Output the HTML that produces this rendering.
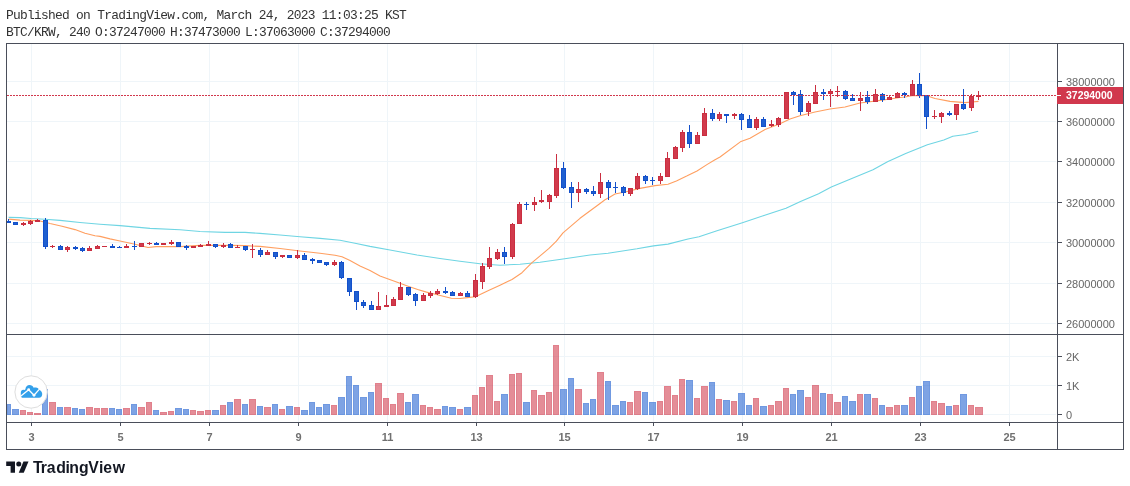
<!DOCTYPE html>
<html lang="en"><head><meta charset="utf-8"><title>BTC/KRW chart</title>
<style>html,body{margin:0;padding:0;background:#fff}body{width:1130px;height:486px;overflow:hidden}svg{display:block}.mono{font-family:"Liberation Mono","DejaVu Sans Mono",monospace;font-size:12.9px;letter-spacing:-0.715px;fill:#333333}.ax{font-family:"Liberation Sans",Arial,sans-serif;font-size:11px;fill:#666666}.logo{font-family:"Liberation Sans",Arial,sans-serif;font-weight:bold;font-size:15.8px;fill:#131722}</style></head><body>
<svg width="1130" height="486" viewBox="0 0 1130 486">
<rect width="1130" height="486" fill="#fff"/>
<text class="mono" x="5.9" y="18.7">Published on TradingView.com, March 24, 2023 11:03:25 KST</text>
<text class="mono" x="5.9" y="35.6">BTC/KRW, 240</text>
<text class="mono" x="94.9" y="35.6">O:37247000</text>
<text class="mono" x="169.9" y="35.6">H:37473000</text>
<text class="mono" x="244.9" y="35.6">L:37063000</text>
<text class="mono" x="319.9" y="35.6">C:37294000</text>
<g shape-rendering="crispEdges">
<rect x="31" y="44" width="1" height="378" fill="#eff5f9"/>
<rect x="120" y="44" width="1" height="378" fill="#eff5f9"/>
<rect x="209" y="44" width="1" height="378" fill="#eff5f9"/>
<rect x="298" y="44" width="1" height="378" fill="#eff5f9"/>
<rect x="387" y="44" width="1" height="378" fill="#eff5f9"/>
<rect x="476" y="44" width="1" height="378" fill="#eff5f9"/>
<rect x="564" y="44" width="1" height="378" fill="#eff5f9"/>
<rect x="653" y="44" width="1" height="378" fill="#eff5f9"/>
<rect x="742" y="44" width="1" height="378" fill="#eff5f9"/>
<rect x="831" y="44" width="1" height="378" fill="#eff5f9"/>
<rect x="920" y="44" width="1" height="378" fill="#eff5f9"/>
<rect x="1009" y="44" width="1" height="378" fill="#eff5f9"/>
<rect x="7" y="81" width="1049" height="1" fill="#eff5f9"/>
<rect x="7" y="121" width="1049" height="1" fill="#eff5f9"/>
<rect x="7" y="161" width="1049" height="1" fill="#eff5f9"/>
<rect x="7" y="202" width="1049" height="1" fill="#eff5f9"/>
<rect x="7" y="242" width="1049" height="1" fill="#eff5f9"/>
<rect x="7" y="283" width="1049" height="1" fill="#eff5f9"/>
<rect x="7" y="323" width="1049" height="1" fill="#eff5f9"/>
<rect x="7" y="356" width="1049" height="1" fill="#eff5f9"/>
<rect x="7" y="385" width="1049" height="1" fill="#eff5f9"/>
<rect x="7" y="414" width="1049" height="1" fill="#eff5f9"/>
</g>
<g shape-rendering="crispEdges">
<rect x="7" y="404" width="4" height="1" fill="#2060d0" fill-opacity="0.645"/>
<rect x="7" y="414" width="4" height="1" fill="#2060d0" fill-opacity="0.645"/>
<rect x="7" y="405" width="1" height="9" fill="#2060d0" fill-opacity="0.645"/>
<rect x="10" y="405" width="1" height="9" fill="#2060d0" fill-opacity="0.645"/>
<rect x="8" y="405" width="2" height="9" fill="#2060d0" fill-opacity="0.58"/>
<rect x="12" y="409" width="7" height="1" fill="#2060d0" fill-opacity="0.645"/>
<rect x="12" y="414" width="7" height="1" fill="#2060d0" fill-opacity="0.645"/>
<rect x="12" y="410" width="1" height="4" fill="#2060d0" fill-opacity="0.645"/>
<rect x="18" y="410" width="1" height="4" fill="#2060d0" fill-opacity="0.645"/>
<rect x="13" y="410" width="5" height="4" fill="#2060d0" fill-opacity="0.58"/>
<rect x="20" y="410" width="6" height="1" fill="#d13a4c" fill-opacity="0.645"/>
<rect x="20" y="414" width="6" height="1" fill="#d13a4c" fill-opacity="0.645"/>
<rect x="20" y="411" width="1" height="3" fill="#d13a4c" fill-opacity="0.645"/>
<rect x="25" y="411" width="1" height="3" fill="#d13a4c" fill-opacity="0.645"/>
<rect x="21" y="411" width="4" height="3" fill="#d13a4c" fill-opacity="0.58"/>
<rect x="27" y="412" width="6" height="1" fill="#d13a4c" fill-opacity="0.645"/>
<rect x="27" y="414" width="6" height="1" fill="#d13a4c" fill-opacity="0.645"/>
<rect x="27" y="413" width="1" height="1" fill="#d13a4c" fill-opacity="0.645"/>
<rect x="32" y="413" width="1" height="1" fill="#d13a4c" fill-opacity="0.645"/>
<rect x="28" y="413" width="4" height="1" fill="#d13a4c" fill-opacity="0.58"/>
<rect x="34" y="413" width="7" height="2" fill="#d13a4c" fill-opacity="0.645"/>
<rect x="42" y="389" width="6" height="1" fill="#2060d0" fill-opacity="0.645"/>
<rect x="42" y="414" width="6" height="1" fill="#2060d0" fill-opacity="0.645"/>
<rect x="42" y="390" width="1" height="24" fill="#2060d0" fill-opacity="0.645"/>
<rect x="47" y="390" width="1" height="24" fill="#2060d0" fill-opacity="0.645"/>
<rect x="43" y="390" width="4" height="24" fill="#2060d0" fill-opacity="0.58"/>
<rect x="49" y="402" width="7" height="1" fill="#d13a4c" fill-opacity="0.645"/>
<rect x="49" y="414" width="7" height="1" fill="#d13a4c" fill-opacity="0.645"/>
<rect x="49" y="403" width="1" height="11" fill="#d13a4c" fill-opacity="0.645"/>
<rect x="55" y="403" width="1" height="11" fill="#d13a4c" fill-opacity="0.645"/>
<rect x="50" y="403" width="5" height="11" fill="#d13a4c" fill-opacity="0.58"/>
<rect x="57" y="407" width="6" height="1" fill="#2060d0" fill-opacity="0.645"/>
<rect x="57" y="414" width="6" height="1" fill="#2060d0" fill-opacity="0.645"/>
<rect x="57" y="408" width="1" height="6" fill="#2060d0" fill-opacity="0.645"/>
<rect x="62" y="408" width="1" height="6" fill="#2060d0" fill-opacity="0.645"/>
<rect x="58" y="408" width="4" height="6" fill="#2060d0" fill-opacity="0.58"/>
<rect x="64" y="407" width="7" height="1" fill="#d13a4c" fill-opacity="0.645"/>
<rect x="64" y="414" width="7" height="1" fill="#d13a4c" fill-opacity="0.645"/>
<rect x="64" y="408" width="1" height="6" fill="#d13a4c" fill-opacity="0.645"/>
<rect x="70" y="408" width="1" height="6" fill="#d13a4c" fill-opacity="0.645"/>
<rect x="65" y="408" width="5" height="6" fill="#d13a4c" fill-opacity="0.58"/>
<rect x="72" y="408" width="6" height="1" fill="#2060d0" fill-opacity="0.645"/>
<rect x="72" y="414" width="6" height="1" fill="#2060d0" fill-opacity="0.645"/>
<rect x="72" y="409" width="1" height="5" fill="#2060d0" fill-opacity="0.645"/>
<rect x="77" y="409" width="1" height="5" fill="#2060d0" fill-opacity="0.645"/>
<rect x="73" y="409" width="4" height="5" fill="#2060d0" fill-opacity="0.58"/>
<rect x="79" y="409" width="6" height="1" fill="#2060d0" fill-opacity="0.645"/>
<rect x="79" y="414" width="6" height="1" fill="#2060d0" fill-opacity="0.645"/>
<rect x="79" y="410" width="1" height="4" fill="#2060d0" fill-opacity="0.645"/>
<rect x="84" y="410" width="1" height="4" fill="#2060d0" fill-opacity="0.645"/>
<rect x="80" y="410" width="4" height="4" fill="#2060d0" fill-opacity="0.58"/>
<rect x="86" y="407" width="7" height="1" fill="#d13a4c" fill-opacity="0.645"/>
<rect x="86" y="414" width="7" height="1" fill="#d13a4c" fill-opacity="0.645"/>
<rect x="86" y="408" width="1" height="6" fill="#d13a4c" fill-opacity="0.645"/>
<rect x="92" y="408" width="1" height="6" fill="#d13a4c" fill-opacity="0.645"/>
<rect x="87" y="408" width="5" height="6" fill="#d13a4c" fill-opacity="0.58"/>
<rect x="94" y="408" width="6" height="1" fill="#d13a4c" fill-opacity="0.645"/>
<rect x="94" y="414" width="6" height="1" fill="#d13a4c" fill-opacity="0.645"/>
<rect x="94" y="409" width="1" height="5" fill="#d13a4c" fill-opacity="0.645"/>
<rect x="99" y="409" width="1" height="5" fill="#d13a4c" fill-opacity="0.645"/>
<rect x="95" y="409" width="4" height="5" fill="#d13a4c" fill-opacity="0.58"/>
<rect x="101" y="408" width="7" height="1" fill="#d13a4c" fill-opacity="0.645"/>
<rect x="101" y="414" width="7" height="1" fill="#d13a4c" fill-opacity="0.645"/>
<rect x="101" y="409" width="1" height="5" fill="#d13a4c" fill-opacity="0.645"/>
<rect x="107" y="409" width="1" height="5" fill="#d13a4c" fill-opacity="0.645"/>
<rect x="102" y="409" width="5" height="5" fill="#d13a4c" fill-opacity="0.58"/>
<rect x="109" y="408" width="6" height="1" fill="#2060d0" fill-opacity="0.645"/>
<rect x="109" y="414" width="6" height="1" fill="#2060d0" fill-opacity="0.645"/>
<rect x="109" y="409" width="1" height="5" fill="#2060d0" fill-opacity="0.645"/>
<rect x="114" y="409" width="1" height="5" fill="#2060d0" fill-opacity="0.645"/>
<rect x="110" y="409" width="4" height="5" fill="#2060d0" fill-opacity="0.58"/>
<rect x="116" y="409" width="6" height="1" fill="#2060d0" fill-opacity="0.645"/>
<rect x="116" y="414" width="6" height="1" fill="#2060d0" fill-opacity="0.645"/>
<rect x="116" y="410" width="1" height="4" fill="#2060d0" fill-opacity="0.645"/>
<rect x="121" y="410" width="1" height="4" fill="#2060d0" fill-opacity="0.645"/>
<rect x="117" y="410" width="4" height="4" fill="#2060d0" fill-opacity="0.58"/>
<rect x="123" y="408" width="7" height="1" fill="#d13a4c" fill-opacity="0.645"/>
<rect x="123" y="414" width="7" height="1" fill="#d13a4c" fill-opacity="0.645"/>
<rect x="123" y="409" width="1" height="5" fill="#d13a4c" fill-opacity="0.645"/>
<rect x="129" y="409" width="1" height="5" fill="#d13a4c" fill-opacity="0.645"/>
<rect x="124" y="409" width="5" height="5" fill="#d13a4c" fill-opacity="0.58"/>
<rect x="131" y="404" width="6" height="1" fill="#2060d0" fill-opacity="0.645"/>
<rect x="131" y="414" width="6" height="1" fill="#2060d0" fill-opacity="0.645"/>
<rect x="131" y="405" width="1" height="9" fill="#2060d0" fill-opacity="0.645"/>
<rect x="136" y="405" width="1" height="9" fill="#2060d0" fill-opacity="0.645"/>
<rect x="132" y="405" width="4" height="9" fill="#2060d0" fill-opacity="0.58"/>
<rect x="138" y="407" width="7" height="1" fill="#d13a4c" fill-opacity="0.645"/>
<rect x="138" y="414" width="7" height="1" fill="#d13a4c" fill-opacity="0.645"/>
<rect x="138" y="408" width="1" height="6" fill="#d13a4c" fill-opacity="0.645"/>
<rect x="144" y="408" width="1" height="6" fill="#d13a4c" fill-opacity="0.645"/>
<rect x="139" y="408" width="5" height="6" fill="#d13a4c" fill-opacity="0.58"/>
<rect x="146" y="402" width="6" height="1" fill="#d13a4c" fill-opacity="0.645"/>
<rect x="146" y="414" width="6" height="1" fill="#d13a4c" fill-opacity="0.645"/>
<rect x="146" y="403" width="1" height="11" fill="#d13a4c" fill-opacity="0.645"/>
<rect x="151" y="403" width="1" height="11" fill="#d13a4c" fill-opacity="0.645"/>
<rect x="147" y="403" width="4" height="11" fill="#d13a4c" fill-opacity="0.58"/>
<rect x="153" y="410" width="6" height="1" fill="#2060d0" fill-opacity="0.645"/>
<rect x="153" y="414" width="6" height="1" fill="#2060d0" fill-opacity="0.645"/>
<rect x="153" y="411" width="1" height="3" fill="#2060d0" fill-opacity="0.645"/>
<rect x="158" y="411" width="1" height="3" fill="#2060d0" fill-opacity="0.645"/>
<rect x="154" y="411" width="4" height="3" fill="#2060d0" fill-opacity="0.58"/>
<rect x="160" y="412" width="7" height="1" fill="#d13a4c" fill-opacity="0.645"/>
<rect x="160" y="414" width="7" height="1" fill="#d13a4c" fill-opacity="0.645"/>
<rect x="160" y="413" width="1" height="1" fill="#d13a4c" fill-opacity="0.645"/>
<rect x="166" y="413" width="1" height="1" fill="#d13a4c" fill-opacity="0.645"/>
<rect x="161" y="413" width="5" height="1" fill="#d13a4c" fill-opacity="0.58"/>
<rect x="168" y="411" width="6" height="1" fill="#d13a4c" fill-opacity="0.645"/>
<rect x="168" y="414" width="6" height="1" fill="#d13a4c" fill-opacity="0.645"/>
<rect x="168" y="412" width="1" height="2" fill="#d13a4c" fill-opacity="0.645"/>
<rect x="173" y="412" width="1" height="2" fill="#d13a4c" fill-opacity="0.645"/>
<rect x="169" y="412" width="4" height="2" fill="#d13a4c" fill-opacity="0.58"/>
<rect x="175" y="408" width="7" height="1" fill="#2060d0" fill-opacity="0.645"/>
<rect x="175" y="414" width="7" height="1" fill="#2060d0" fill-opacity="0.645"/>
<rect x="175" y="409" width="1" height="5" fill="#2060d0" fill-opacity="0.645"/>
<rect x="181" y="409" width="1" height="5" fill="#2060d0" fill-opacity="0.645"/>
<rect x="176" y="409" width="5" height="5" fill="#2060d0" fill-opacity="0.58"/>
<rect x="183" y="409" width="6" height="1" fill="#2060d0" fill-opacity="0.645"/>
<rect x="183" y="414" width="6" height="1" fill="#2060d0" fill-opacity="0.645"/>
<rect x="183" y="410" width="1" height="4" fill="#2060d0" fill-opacity="0.645"/>
<rect x="188" y="410" width="1" height="4" fill="#2060d0" fill-opacity="0.645"/>
<rect x="184" y="410" width="4" height="4" fill="#2060d0" fill-opacity="0.58"/>
<rect x="190" y="410" width="6" height="1" fill="#d13a4c" fill-opacity="0.645"/>
<rect x="190" y="414" width="6" height="1" fill="#d13a4c" fill-opacity="0.645"/>
<rect x="190" y="411" width="1" height="3" fill="#d13a4c" fill-opacity="0.645"/>
<rect x="195" y="411" width="1" height="3" fill="#d13a4c" fill-opacity="0.645"/>
<rect x="191" y="411" width="4" height="3" fill="#d13a4c" fill-opacity="0.58"/>
<rect x="197" y="411" width="7" height="1" fill="#d13a4c" fill-opacity="0.645"/>
<rect x="197" y="414" width="7" height="1" fill="#d13a4c" fill-opacity="0.645"/>
<rect x="197" y="412" width="1" height="2" fill="#d13a4c" fill-opacity="0.645"/>
<rect x="203" y="412" width="1" height="2" fill="#d13a4c" fill-opacity="0.645"/>
<rect x="198" y="412" width="5" height="2" fill="#d13a4c" fill-opacity="0.58"/>
<rect x="205" y="410" width="6" height="1" fill="#d13a4c" fill-opacity="0.645"/>
<rect x="205" y="414" width="6" height="1" fill="#d13a4c" fill-opacity="0.645"/>
<rect x="205" y="411" width="1" height="3" fill="#d13a4c" fill-opacity="0.645"/>
<rect x="210" y="411" width="1" height="3" fill="#d13a4c" fill-opacity="0.645"/>
<rect x="206" y="411" width="4" height="3" fill="#d13a4c" fill-opacity="0.58"/>
<rect x="212" y="410" width="7" height="1" fill="#2060d0" fill-opacity="0.645"/>
<rect x="212" y="414" width="7" height="1" fill="#2060d0" fill-opacity="0.645"/>
<rect x="212" y="411" width="1" height="3" fill="#2060d0" fill-opacity="0.645"/>
<rect x="218" y="411" width="1" height="3" fill="#2060d0" fill-opacity="0.645"/>
<rect x="213" y="411" width="5" height="3" fill="#2060d0" fill-opacity="0.58"/>
<rect x="220" y="405" width="6" height="1" fill="#d13a4c" fill-opacity="0.645"/>
<rect x="220" y="414" width="6" height="1" fill="#d13a4c" fill-opacity="0.645"/>
<rect x="220" y="406" width="1" height="8" fill="#d13a4c" fill-opacity="0.645"/>
<rect x="225" y="406" width="1" height="8" fill="#d13a4c" fill-opacity="0.645"/>
<rect x="221" y="406" width="4" height="8" fill="#d13a4c" fill-opacity="0.58"/>
<rect x="227" y="402" width="6" height="1" fill="#2060d0" fill-opacity="0.645"/>
<rect x="227" y="414" width="6" height="1" fill="#2060d0" fill-opacity="0.645"/>
<rect x="227" y="403" width="1" height="11" fill="#2060d0" fill-opacity="0.645"/>
<rect x="232" y="403" width="1" height="11" fill="#2060d0" fill-opacity="0.645"/>
<rect x="228" y="403" width="4" height="11" fill="#2060d0" fill-opacity="0.58"/>
<rect x="234" y="399" width="7" height="1" fill="#d13a4c" fill-opacity="0.645"/>
<rect x="234" y="414" width="7" height="1" fill="#d13a4c" fill-opacity="0.645"/>
<rect x="234" y="400" width="1" height="14" fill="#d13a4c" fill-opacity="0.645"/>
<rect x="240" y="400" width="1" height="14" fill="#d13a4c" fill-opacity="0.645"/>
<rect x="235" y="400" width="5" height="14" fill="#d13a4c" fill-opacity="0.58"/>
<rect x="242" y="404" width="6" height="1" fill="#2060d0" fill-opacity="0.645"/>
<rect x="242" y="414" width="6" height="1" fill="#2060d0" fill-opacity="0.645"/>
<rect x="242" y="405" width="1" height="9" fill="#2060d0" fill-opacity="0.645"/>
<rect x="247" y="405" width="1" height="9" fill="#2060d0" fill-opacity="0.645"/>
<rect x="243" y="405" width="4" height="9" fill="#2060d0" fill-opacity="0.58"/>
<rect x="249" y="399" width="7" height="1" fill="#d13a4c" fill-opacity="0.645"/>
<rect x="249" y="414" width="7" height="1" fill="#d13a4c" fill-opacity="0.645"/>
<rect x="249" y="400" width="1" height="14" fill="#d13a4c" fill-opacity="0.645"/>
<rect x="255" y="400" width="1" height="14" fill="#d13a4c" fill-opacity="0.645"/>
<rect x="250" y="400" width="5" height="14" fill="#d13a4c" fill-opacity="0.58"/>
<rect x="257" y="406" width="6" height="1" fill="#2060d0" fill-opacity="0.645"/>
<rect x="257" y="414" width="6" height="1" fill="#2060d0" fill-opacity="0.645"/>
<rect x="257" y="407" width="1" height="7" fill="#2060d0" fill-opacity="0.645"/>
<rect x="262" y="407" width="1" height="7" fill="#2060d0" fill-opacity="0.645"/>
<rect x="258" y="407" width="4" height="7" fill="#2060d0" fill-opacity="0.58"/>
<rect x="264" y="407" width="7" height="1" fill="#d13a4c" fill-opacity="0.645"/>
<rect x="264" y="414" width="7" height="1" fill="#d13a4c" fill-opacity="0.645"/>
<rect x="264" y="408" width="1" height="6" fill="#d13a4c" fill-opacity="0.645"/>
<rect x="270" y="408" width="1" height="6" fill="#d13a4c" fill-opacity="0.645"/>
<rect x="265" y="408" width="5" height="6" fill="#d13a4c" fill-opacity="0.58"/>
<rect x="272" y="404" width="6" height="1" fill="#2060d0" fill-opacity="0.645"/>
<rect x="272" y="414" width="6" height="1" fill="#2060d0" fill-opacity="0.645"/>
<rect x="272" y="405" width="1" height="9" fill="#2060d0" fill-opacity="0.645"/>
<rect x="277" y="405" width="1" height="9" fill="#2060d0" fill-opacity="0.645"/>
<rect x="273" y="405" width="4" height="9" fill="#2060d0" fill-opacity="0.58"/>
<rect x="279" y="409" width="6" height="1" fill="#d13a4c" fill-opacity="0.645"/>
<rect x="279" y="414" width="6" height="1" fill="#d13a4c" fill-opacity="0.645"/>
<rect x="279" y="410" width="1" height="4" fill="#d13a4c" fill-opacity="0.645"/>
<rect x="284" y="410" width="1" height="4" fill="#d13a4c" fill-opacity="0.645"/>
<rect x="280" y="410" width="4" height="4" fill="#d13a4c" fill-opacity="0.58"/>
<rect x="286" y="406" width="7" height="1" fill="#2060d0" fill-opacity="0.645"/>
<rect x="286" y="414" width="7" height="1" fill="#2060d0" fill-opacity="0.645"/>
<rect x="286" y="407" width="1" height="7" fill="#2060d0" fill-opacity="0.645"/>
<rect x="292" y="407" width="1" height="7" fill="#2060d0" fill-opacity="0.645"/>
<rect x="287" y="407" width="5" height="7" fill="#2060d0" fill-opacity="0.58"/>
<rect x="294" y="407" width="6" height="1" fill="#d13a4c" fill-opacity="0.645"/>
<rect x="294" y="414" width="6" height="1" fill="#d13a4c" fill-opacity="0.645"/>
<rect x="294" y="408" width="1" height="6" fill="#d13a4c" fill-opacity="0.645"/>
<rect x="299" y="408" width="1" height="6" fill="#d13a4c" fill-opacity="0.645"/>
<rect x="295" y="408" width="4" height="6" fill="#d13a4c" fill-opacity="0.58"/>
<rect x="301" y="410" width="7" height="1" fill="#2060d0" fill-opacity="0.645"/>
<rect x="301" y="414" width="7" height="1" fill="#2060d0" fill-opacity="0.645"/>
<rect x="301" y="411" width="1" height="3" fill="#2060d0" fill-opacity="0.645"/>
<rect x="307" y="411" width="1" height="3" fill="#2060d0" fill-opacity="0.645"/>
<rect x="302" y="411" width="5" height="3" fill="#2060d0" fill-opacity="0.58"/>
<rect x="309" y="402" width="6" height="1" fill="#2060d0" fill-opacity="0.645"/>
<rect x="309" y="414" width="6" height="1" fill="#2060d0" fill-opacity="0.645"/>
<rect x="309" y="403" width="1" height="11" fill="#2060d0" fill-opacity="0.645"/>
<rect x="314" y="403" width="1" height="11" fill="#2060d0" fill-opacity="0.645"/>
<rect x="310" y="403" width="4" height="11" fill="#2060d0" fill-opacity="0.58"/>
<rect x="316" y="407" width="6" height="1" fill="#2060d0" fill-opacity="0.645"/>
<rect x="316" y="414" width="6" height="1" fill="#2060d0" fill-opacity="0.645"/>
<rect x="316" y="408" width="1" height="6" fill="#2060d0" fill-opacity="0.645"/>
<rect x="321" y="408" width="1" height="6" fill="#2060d0" fill-opacity="0.645"/>
<rect x="317" y="408" width="4" height="6" fill="#2060d0" fill-opacity="0.58"/>
<rect x="323" y="404" width="7" height="1" fill="#2060d0" fill-opacity="0.645"/>
<rect x="323" y="414" width="7" height="1" fill="#2060d0" fill-opacity="0.645"/>
<rect x="323" y="405" width="1" height="9" fill="#2060d0" fill-opacity="0.645"/>
<rect x="329" y="405" width="1" height="9" fill="#2060d0" fill-opacity="0.645"/>
<rect x="324" y="405" width="5" height="9" fill="#2060d0" fill-opacity="0.58"/>
<rect x="331" y="405" width="6" height="1" fill="#d13a4c" fill-opacity="0.645"/>
<rect x="331" y="414" width="6" height="1" fill="#d13a4c" fill-opacity="0.645"/>
<rect x="331" y="406" width="1" height="8" fill="#d13a4c" fill-opacity="0.645"/>
<rect x="336" y="406" width="1" height="8" fill="#d13a4c" fill-opacity="0.645"/>
<rect x="332" y="406" width="4" height="8" fill="#d13a4c" fill-opacity="0.58"/>
<rect x="338" y="397" width="7" height="1" fill="#2060d0" fill-opacity="0.645"/>
<rect x="338" y="414" width="7" height="1" fill="#2060d0" fill-opacity="0.645"/>
<rect x="338" y="398" width="1" height="16" fill="#2060d0" fill-opacity="0.645"/>
<rect x="344" y="398" width="1" height="16" fill="#2060d0" fill-opacity="0.645"/>
<rect x="339" y="398" width="5" height="16" fill="#2060d0" fill-opacity="0.58"/>
<rect x="346" y="376" width="6" height="1" fill="#2060d0" fill-opacity="0.645"/>
<rect x="346" y="414" width="6" height="1" fill="#2060d0" fill-opacity="0.645"/>
<rect x="346" y="377" width="1" height="37" fill="#2060d0" fill-opacity="0.645"/>
<rect x="351" y="377" width="1" height="37" fill="#2060d0" fill-opacity="0.645"/>
<rect x="347" y="377" width="4" height="37" fill="#2060d0" fill-opacity="0.58"/>
<rect x="353" y="385" width="6" height="1" fill="#2060d0" fill-opacity="0.645"/>
<rect x="353" y="414" width="6" height="1" fill="#2060d0" fill-opacity="0.645"/>
<rect x="353" y="386" width="1" height="28" fill="#2060d0" fill-opacity="0.645"/>
<rect x="358" y="386" width="1" height="28" fill="#2060d0" fill-opacity="0.645"/>
<rect x="354" y="386" width="4" height="28" fill="#2060d0" fill-opacity="0.58"/>
<rect x="360" y="397" width="7" height="1" fill="#2060d0" fill-opacity="0.645"/>
<rect x="360" y="414" width="7" height="1" fill="#2060d0" fill-opacity="0.645"/>
<rect x="360" y="398" width="1" height="16" fill="#2060d0" fill-opacity="0.645"/>
<rect x="366" y="398" width="1" height="16" fill="#2060d0" fill-opacity="0.645"/>
<rect x="361" y="398" width="5" height="16" fill="#2060d0" fill-opacity="0.58"/>
<rect x="368" y="392" width="6" height="1" fill="#2060d0" fill-opacity="0.645"/>
<rect x="368" y="414" width="6" height="1" fill="#2060d0" fill-opacity="0.645"/>
<rect x="368" y="393" width="1" height="21" fill="#2060d0" fill-opacity="0.645"/>
<rect x="373" y="393" width="1" height="21" fill="#2060d0" fill-opacity="0.645"/>
<rect x="369" y="393" width="4" height="21" fill="#2060d0" fill-opacity="0.58"/>
<rect x="375" y="383" width="7" height="1" fill="#d13a4c" fill-opacity="0.645"/>
<rect x="375" y="414" width="7" height="1" fill="#d13a4c" fill-opacity="0.645"/>
<rect x="375" y="384" width="1" height="30" fill="#d13a4c" fill-opacity="0.645"/>
<rect x="381" y="384" width="1" height="30" fill="#d13a4c" fill-opacity="0.645"/>
<rect x="376" y="384" width="5" height="30" fill="#d13a4c" fill-opacity="0.58"/>
<rect x="383" y="398" width="6" height="1" fill="#d13a4c" fill-opacity="0.645"/>
<rect x="383" y="414" width="6" height="1" fill="#d13a4c" fill-opacity="0.645"/>
<rect x="383" y="399" width="1" height="15" fill="#d13a4c" fill-opacity="0.645"/>
<rect x="388" y="399" width="1" height="15" fill="#d13a4c" fill-opacity="0.645"/>
<rect x="384" y="399" width="4" height="15" fill="#d13a4c" fill-opacity="0.58"/>
<rect x="390" y="404" width="6" height="1" fill="#d13a4c" fill-opacity="0.645"/>
<rect x="390" y="414" width="6" height="1" fill="#d13a4c" fill-opacity="0.645"/>
<rect x="390" y="405" width="1" height="9" fill="#d13a4c" fill-opacity="0.645"/>
<rect x="395" y="405" width="1" height="9" fill="#d13a4c" fill-opacity="0.645"/>
<rect x="391" y="405" width="4" height="9" fill="#d13a4c" fill-opacity="0.58"/>
<rect x="397" y="393" width="7" height="1" fill="#d13a4c" fill-opacity="0.645"/>
<rect x="397" y="414" width="7" height="1" fill="#d13a4c" fill-opacity="0.645"/>
<rect x="397" y="394" width="1" height="20" fill="#d13a4c" fill-opacity="0.645"/>
<rect x="403" y="394" width="1" height="20" fill="#d13a4c" fill-opacity="0.645"/>
<rect x="398" y="394" width="5" height="20" fill="#d13a4c" fill-opacity="0.58"/>
<rect x="405" y="402" width="6" height="1" fill="#2060d0" fill-opacity="0.645"/>
<rect x="405" y="414" width="6" height="1" fill="#2060d0" fill-opacity="0.645"/>
<rect x="405" y="403" width="1" height="11" fill="#2060d0" fill-opacity="0.645"/>
<rect x="410" y="403" width="1" height="11" fill="#2060d0" fill-opacity="0.645"/>
<rect x="406" y="403" width="4" height="11" fill="#2060d0" fill-opacity="0.58"/>
<rect x="412" y="394" width="7" height="1" fill="#2060d0" fill-opacity="0.645"/>
<rect x="412" y="414" width="7" height="1" fill="#2060d0" fill-opacity="0.645"/>
<rect x="412" y="395" width="1" height="19" fill="#2060d0" fill-opacity="0.645"/>
<rect x="418" y="395" width="1" height="19" fill="#2060d0" fill-opacity="0.645"/>
<rect x="413" y="395" width="5" height="19" fill="#2060d0" fill-opacity="0.58"/>
<rect x="420" y="405" width="6" height="1" fill="#d13a4c" fill-opacity="0.645"/>
<rect x="420" y="414" width="6" height="1" fill="#d13a4c" fill-opacity="0.645"/>
<rect x="420" y="406" width="1" height="8" fill="#d13a4c" fill-opacity="0.645"/>
<rect x="425" y="406" width="1" height="8" fill="#d13a4c" fill-opacity="0.645"/>
<rect x="421" y="406" width="4" height="8" fill="#d13a4c" fill-opacity="0.58"/>
<rect x="427" y="407" width="6" height="1" fill="#d13a4c" fill-opacity="0.645"/>
<rect x="427" y="414" width="6" height="1" fill="#d13a4c" fill-opacity="0.645"/>
<rect x="427" y="408" width="1" height="6" fill="#d13a4c" fill-opacity="0.645"/>
<rect x="432" y="408" width="1" height="6" fill="#d13a4c" fill-opacity="0.645"/>
<rect x="428" y="408" width="4" height="6" fill="#d13a4c" fill-opacity="0.58"/>
<rect x="434" y="409" width="7" height="1" fill="#d13a4c" fill-opacity="0.645"/>
<rect x="434" y="414" width="7" height="1" fill="#d13a4c" fill-opacity="0.645"/>
<rect x="434" y="410" width="1" height="4" fill="#d13a4c" fill-opacity="0.645"/>
<rect x="440" y="410" width="1" height="4" fill="#d13a4c" fill-opacity="0.645"/>
<rect x="435" y="410" width="5" height="4" fill="#d13a4c" fill-opacity="0.58"/>
<rect x="442" y="406" width="6" height="1" fill="#2060d0" fill-opacity="0.645"/>
<rect x="442" y="414" width="6" height="1" fill="#2060d0" fill-opacity="0.645"/>
<rect x="442" y="407" width="1" height="7" fill="#2060d0" fill-opacity="0.645"/>
<rect x="447" y="407" width="1" height="7" fill="#2060d0" fill-opacity="0.645"/>
<rect x="443" y="407" width="4" height="7" fill="#2060d0" fill-opacity="0.58"/>
<rect x="449" y="407" width="7" height="1" fill="#2060d0" fill-opacity="0.645"/>
<rect x="449" y="414" width="7" height="1" fill="#2060d0" fill-opacity="0.645"/>
<rect x="449" y="408" width="1" height="6" fill="#2060d0" fill-opacity="0.645"/>
<rect x="455" y="408" width="1" height="6" fill="#2060d0" fill-opacity="0.645"/>
<rect x="450" y="408" width="5" height="6" fill="#2060d0" fill-opacity="0.58"/>
<rect x="457" y="409" width="6" height="1" fill="#d13a4c" fill-opacity="0.645"/>
<rect x="457" y="414" width="6" height="1" fill="#d13a4c" fill-opacity="0.645"/>
<rect x="457" y="410" width="1" height="4" fill="#d13a4c" fill-opacity="0.645"/>
<rect x="462" y="410" width="1" height="4" fill="#d13a4c" fill-opacity="0.645"/>
<rect x="458" y="410" width="4" height="4" fill="#d13a4c" fill-opacity="0.58"/>
<rect x="464" y="407" width="7" height="1" fill="#2060d0" fill-opacity="0.645"/>
<rect x="464" y="414" width="7" height="1" fill="#2060d0" fill-opacity="0.645"/>
<rect x="464" y="408" width="1" height="6" fill="#2060d0" fill-opacity="0.645"/>
<rect x="470" y="408" width="1" height="6" fill="#2060d0" fill-opacity="0.645"/>
<rect x="465" y="408" width="5" height="6" fill="#2060d0" fill-opacity="0.58"/>
<rect x="472" y="395" width="6" height="1" fill="#d13a4c" fill-opacity="0.645"/>
<rect x="472" y="414" width="6" height="1" fill="#d13a4c" fill-opacity="0.645"/>
<rect x="472" y="396" width="1" height="18" fill="#d13a4c" fill-opacity="0.645"/>
<rect x="477" y="396" width="1" height="18" fill="#d13a4c" fill-opacity="0.645"/>
<rect x="473" y="396" width="4" height="18" fill="#d13a4c" fill-opacity="0.58"/>
<rect x="479" y="387" width="6" height="1" fill="#d13a4c" fill-opacity="0.645"/>
<rect x="479" y="414" width="6" height="1" fill="#d13a4c" fill-opacity="0.645"/>
<rect x="479" y="388" width="1" height="26" fill="#d13a4c" fill-opacity="0.645"/>
<rect x="484" y="388" width="1" height="26" fill="#d13a4c" fill-opacity="0.645"/>
<rect x="480" y="388" width="4" height="26" fill="#d13a4c" fill-opacity="0.58"/>
<rect x="486" y="375" width="7" height="1" fill="#d13a4c" fill-opacity="0.645"/>
<rect x="486" y="414" width="7" height="1" fill="#d13a4c" fill-opacity="0.645"/>
<rect x="486" y="376" width="1" height="38" fill="#d13a4c" fill-opacity="0.645"/>
<rect x="492" y="376" width="1" height="38" fill="#d13a4c" fill-opacity="0.645"/>
<rect x="487" y="376" width="5" height="38" fill="#d13a4c" fill-opacity="0.58"/>
<rect x="494" y="401" width="6" height="1" fill="#d13a4c" fill-opacity="0.645"/>
<rect x="494" y="414" width="6" height="1" fill="#d13a4c" fill-opacity="0.645"/>
<rect x="494" y="402" width="1" height="12" fill="#d13a4c" fill-opacity="0.645"/>
<rect x="499" y="402" width="1" height="12" fill="#d13a4c" fill-opacity="0.645"/>
<rect x="495" y="402" width="4" height="12" fill="#d13a4c" fill-opacity="0.58"/>
<rect x="501" y="394" width="7" height="1" fill="#2060d0" fill-opacity="0.645"/>
<rect x="501" y="414" width="7" height="1" fill="#2060d0" fill-opacity="0.645"/>
<rect x="501" y="395" width="1" height="19" fill="#2060d0" fill-opacity="0.645"/>
<rect x="507" y="395" width="1" height="19" fill="#2060d0" fill-opacity="0.645"/>
<rect x="502" y="395" width="5" height="19" fill="#2060d0" fill-opacity="0.58"/>
<rect x="509" y="374" width="6" height="1" fill="#d13a4c" fill-opacity="0.645"/>
<rect x="509" y="414" width="6" height="1" fill="#d13a4c" fill-opacity="0.645"/>
<rect x="509" y="375" width="1" height="39" fill="#d13a4c" fill-opacity="0.645"/>
<rect x="514" y="375" width="1" height="39" fill="#d13a4c" fill-opacity="0.645"/>
<rect x="510" y="375" width="4" height="39" fill="#d13a4c" fill-opacity="0.58"/>
<rect x="516" y="373" width="6" height="1" fill="#d13a4c" fill-opacity="0.645"/>
<rect x="516" y="414" width="6" height="1" fill="#d13a4c" fill-opacity="0.645"/>
<rect x="516" y="374" width="1" height="40" fill="#d13a4c" fill-opacity="0.645"/>
<rect x="521" y="374" width="1" height="40" fill="#d13a4c" fill-opacity="0.645"/>
<rect x="517" y="374" width="4" height="40" fill="#d13a4c" fill-opacity="0.58"/>
<rect x="523" y="402" width="7" height="1" fill="#2060d0" fill-opacity="0.645"/>
<rect x="523" y="414" width="7" height="1" fill="#2060d0" fill-opacity="0.645"/>
<rect x="523" y="403" width="1" height="11" fill="#2060d0" fill-opacity="0.645"/>
<rect x="529" y="403" width="1" height="11" fill="#2060d0" fill-opacity="0.645"/>
<rect x="524" y="403" width="5" height="11" fill="#2060d0" fill-opacity="0.58"/>
<rect x="531" y="390" width="6" height="1" fill="#d13a4c" fill-opacity="0.645"/>
<rect x="531" y="414" width="6" height="1" fill="#d13a4c" fill-opacity="0.645"/>
<rect x="531" y="391" width="1" height="23" fill="#d13a4c" fill-opacity="0.645"/>
<rect x="536" y="391" width="1" height="23" fill="#d13a4c" fill-opacity="0.645"/>
<rect x="532" y="391" width="4" height="23" fill="#d13a4c" fill-opacity="0.58"/>
<rect x="538" y="395" width="7" height="1" fill="#d13a4c" fill-opacity="0.645"/>
<rect x="538" y="414" width="7" height="1" fill="#d13a4c" fill-opacity="0.645"/>
<rect x="538" y="396" width="1" height="18" fill="#d13a4c" fill-opacity="0.645"/>
<rect x="544" y="396" width="1" height="18" fill="#d13a4c" fill-opacity="0.645"/>
<rect x="539" y="396" width="5" height="18" fill="#d13a4c" fill-opacity="0.58"/>
<rect x="546" y="392" width="6" height="1" fill="#d13a4c" fill-opacity="0.645"/>
<rect x="546" y="414" width="6" height="1" fill="#d13a4c" fill-opacity="0.645"/>
<rect x="546" y="393" width="1" height="21" fill="#d13a4c" fill-opacity="0.645"/>
<rect x="551" y="393" width="1" height="21" fill="#d13a4c" fill-opacity="0.645"/>
<rect x="547" y="393" width="4" height="21" fill="#d13a4c" fill-opacity="0.58"/>
<rect x="553" y="345" width="6" height="1" fill="#d13a4c" fill-opacity="0.645"/>
<rect x="553" y="414" width="6" height="1" fill="#d13a4c" fill-opacity="0.645"/>
<rect x="553" y="346" width="1" height="68" fill="#d13a4c" fill-opacity="0.645"/>
<rect x="558" y="346" width="1" height="68" fill="#d13a4c" fill-opacity="0.645"/>
<rect x="554" y="346" width="4" height="68" fill="#d13a4c" fill-opacity="0.58"/>
<rect x="560" y="389" width="7" height="1" fill="#2060d0" fill-opacity="0.645"/>
<rect x="560" y="414" width="7" height="1" fill="#2060d0" fill-opacity="0.645"/>
<rect x="560" y="390" width="1" height="24" fill="#2060d0" fill-opacity="0.645"/>
<rect x="566" y="390" width="1" height="24" fill="#2060d0" fill-opacity="0.645"/>
<rect x="561" y="390" width="5" height="24" fill="#2060d0" fill-opacity="0.58"/>
<rect x="568" y="378" width="6" height="1" fill="#2060d0" fill-opacity="0.645"/>
<rect x="568" y="414" width="6" height="1" fill="#2060d0" fill-opacity="0.645"/>
<rect x="568" y="379" width="1" height="35" fill="#2060d0" fill-opacity="0.645"/>
<rect x="573" y="379" width="1" height="35" fill="#2060d0" fill-opacity="0.645"/>
<rect x="569" y="379" width="4" height="35" fill="#2060d0" fill-opacity="0.58"/>
<rect x="575" y="389" width="7" height="1" fill="#d13a4c" fill-opacity="0.645"/>
<rect x="575" y="414" width="7" height="1" fill="#d13a4c" fill-opacity="0.645"/>
<rect x="575" y="390" width="1" height="24" fill="#d13a4c" fill-opacity="0.645"/>
<rect x="581" y="390" width="1" height="24" fill="#d13a4c" fill-opacity="0.645"/>
<rect x="576" y="390" width="5" height="24" fill="#d13a4c" fill-opacity="0.58"/>
<rect x="583" y="403" width="6" height="1" fill="#2060d0" fill-opacity="0.645"/>
<rect x="583" y="414" width="6" height="1" fill="#2060d0" fill-opacity="0.645"/>
<rect x="583" y="404" width="1" height="10" fill="#2060d0" fill-opacity="0.645"/>
<rect x="588" y="404" width="1" height="10" fill="#2060d0" fill-opacity="0.645"/>
<rect x="584" y="404" width="4" height="10" fill="#2060d0" fill-opacity="0.58"/>
<rect x="590" y="399" width="6" height="1" fill="#2060d0" fill-opacity="0.645"/>
<rect x="590" y="414" width="6" height="1" fill="#2060d0" fill-opacity="0.645"/>
<rect x="590" y="400" width="1" height="14" fill="#2060d0" fill-opacity="0.645"/>
<rect x="595" y="400" width="1" height="14" fill="#2060d0" fill-opacity="0.645"/>
<rect x="591" y="400" width="4" height="14" fill="#2060d0" fill-opacity="0.58"/>
<rect x="597" y="372" width="7" height="1" fill="#d13a4c" fill-opacity="0.645"/>
<rect x="597" y="414" width="7" height="1" fill="#d13a4c" fill-opacity="0.645"/>
<rect x="597" y="373" width="1" height="41" fill="#d13a4c" fill-opacity="0.645"/>
<rect x="603" y="373" width="1" height="41" fill="#d13a4c" fill-opacity="0.645"/>
<rect x="598" y="373" width="5" height="41" fill="#d13a4c" fill-opacity="0.58"/>
<rect x="605" y="381" width="6" height="1" fill="#2060d0" fill-opacity="0.645"/>
<rect x="605" y="414" width="6" height="1" fill="#2060d0" fill-opacity="0.645"/>
<rect x="605" y="382" width="1" height="32" fill="#2060d0" fill-opacity="0.645"/>
<rect x="610" y="382" width="1" height="32" fill="#2060d0" fill-opacity="0.645"/>
<rect x="606" y="382" width="4" height="32" fill="#2060d0" fill-opacity="0.58"/>
<rect x="612" y="405" width="7" height="1" fill="#2060d0" fill-opacity="0.645"/>
<rect x="612" y="414" width="7" height="1" fill="#2060d0" fill-opacity="0.645"/>
<rect x="612" y="406" width="1" height="8" fill="#2060d0" fill-opacity="0.645"/>
<rect x="618" y="406" width="1" height="8" fill="#2060d0" fill-opacity="0.645"/>
<rect x="613" y="406" width="5" height="8" fill="#2060d0" fill-opacity="0.58"/>
<rect x="620" y="401" width="6" height="1" fill="#2060d0" fill-opacity="0.645"/>
<rect x="620" y="414" width="6" height="1" fill="#2060d0" fill-opacity="0.645"/>
<rect x="620" y="402" width="1" height="12" fill="#2060d0" fill-opacity="0.645"/>
<rect x="625" y="402" width="1" height="12" fill="#2060d0" fill-opacity="0.645"/>
<rect x="621" y="402" width="4" height="12" fill="#2060d0" fill-opacity="0.58"/>
<rect x="627" y="402" width="6" height="1" fill="#d13a4c" fill-opacity="0.645"/>
<rect x="627" y="414" width="6" height="1" fill="#d13a4c" fill-opacity="0.645"/>
<rect x="627" y="403" width="1" height="11" fill="#d13a4c" fill-opacity="0.645"/>
<rect x="632" y="403" width="1" height="11" fill="#d13a4c" fill-opacity="0.645"/>
<rect x="628" y="403" width="4" height="11" fill="#d13a4c" fill-opacity="0.58"/>
<rect x="634" y="391" width="7" height="1" fill="#d13a4c" fill-opacity="0.645"/>
<rect x="634" y="414" width="7" height="1" fill="#d13a4c" fill-opacity="0.645"/>
<rect x="634" y="392" width="1" height="22" fill="#d13a4c" fill-opacity="0.645"/>
<rect x="640" y="392" width="1" height="22" fill="#d13a4c" fill-opacity="0.645"/>
<rect x="635" y="392" width="5" height="22" fill="#d13a4c" fill-opacity="0.58"/>
<rect x="642" y="392" width="6" height="1" fill="#2060d0" fill-opacity="0.645"/>
<rect x="642" y="414" width="6" height="1" fill="#2060d0" fill-opacity="0.645"/>
<rect x="642" y="393" width="1" height="21" fill="#2060d0" fill-opacity="0.645"/>
<rect x="647" y="393" width="1" height="21" fill="#2060d0" fill-opacity="0.645"/>
<rect x="643" y="393" width="4" height="21" fill="#2060d0" fill-opacity="0.58"/>
<rect x="649" y="402" width="7" height="1" fill="#2060d0" fill-opacity="0.645"/>
<rect x="649" y="414" width="7" height="1" fill="#2060d0" fill-opacity="0.645"/>
<rect x="649" y="403" width="1" height="11" fill="#2060d0" fill-opacity="0.645"/>
<rect x="655" y="403" width="1" height="11" fill="#2060d0" fill-opacity="0.645"/>
<rect x="650" y="403" width="5" height="11" fill="#2060d0" fill-opacity="0.58"/>
<rect x="657" y="401" width="6" height="1" fill="#d13a4c" fill-opacity="0.645"/>
<rect x="657" y="414" width="6" height="1" fill="#d13a4c" fill-opacity="0.645"/>
<rect x="657" y="402" width="1" height="12" fill="#d13a4c" fill-opacity="0.645"/>
<rect x="662" y="402" width="1" height="12" fill="#d13a4c" fill-opacity="0.645"/>
<rect x="658" y="402" width="4" height="12" fill="#d13a4c" fill-opacity="0.58"/>
<rect x="664" y="386" width="7" height="1" fill="#d13a4c" fill-opacity="0.645"/>
<rect x="664" y="414" width="7" height="1" fill="#d13a4c" fill-opacity="0.645"/>
<rect x="664" y="387" width="1" height="27" fill="#d13a4c" fill-opacity="0.645"/>
<rect x="670" y="387" width="1" height="27" fill="#d13a4c" fill-opacity="0.645"/>
<rect x="665" y="387" width="5" height="27" fill="#d13a4c" fill-opacity="0.58"/>
<rect x="672" y="395" width="6" height="1" fill="#d13a4c" fill-opacity="0.645"/>
<rect x="672" y="414" width="6" height="1" fill="#d13a4c" fill-opacity="0.645"/>
<rect x="672" y="396" width="1" height="18" fill="#d13a4c" fill-opacity="0.645"/>
<rect x="677" y="396" width="1" height="18" fill="#d13a4c" fill-opacity="0.645"/>
<rect x="673" y="396" width="4" height="18" fill="#d13a4c" fill-opacity="0.58"/>
<rect x="679" y="379" width="6" height="1" fill="#d13a4c" fill-opacity="0.645"/>
<rect x="679" y="414" width="6" height="1" fill="#d13a4c" fill-opacity="0.645"/>
<rect x="679" y="380" width="1" height="34" fill="#d13a4c" fill-opacity="0.645"/>
<rect x="684" y="380" width="1" height="34" fill="#d13a4c" fill-opacity="0.645"/>
<rect x="680" y="380" width="4" height="34" fill="#d13a4c" fill-opacity="0.58"/>
<rect x="686" y="380" width="7" height="1" fill="#2060d0" fill-opacity="0.645"/>
<rect x="686" y="414" width="7" height="1" fill="#2060d0" fill-opacity="0.645"/>
<rect x="686" y="381" width="1" height="33" fill="#2060d0" fill-opacity="0.645"/>
<rect x="692" y="381" width="1" height="33" fill="#2060d0" fill-opacity="0.645"/>
<rect x="687" y="381" width="5" height="33" fill="#2060d0" fill-opacity="0.58"/>
<rect x="694" y="398" width="6" height="1" fill="#d13a4c" fill-opacity="0.645"/>
<rect x="694" y="414" width="6" height="1" fill="#d13a4c" fill-opacity="0.645"/>
<rect x="694" y="399" width="1" height="15" fill="#d13a4c" fill-opacity="0.645"/>
<rect x="699" y="399" width="1" height="15" fill="#d13a4c" fill-opacity="0.645"/>
<rect x="695" y="399" width="4" height="15" fill="#d13a4c" fill-opacity="0.58"/>
<rect x="701" y="386" width="7" height="1" fill="#d13a4c" fill-opacity="0.645"/>
<rect x="701" y="414" width="7" height="1" fill="#d13a4c" fill-opacity="0.645"/>
<rect x="701" y="387" width="1" height="27" fill="#d13a4c" fill-opacity="0.645"/>
<rect x="707" y="387" width="1" height="27" fill="#d13a4c" fill-opacity="0.645"/>
<rect x="702" y="387" width="5" height="27" fill="#d13a4c" fill-opacity="0.58"/>
<rect x="709" y="382" width="6" height="1" fill="#2060d0" fill-opacity="0.645"/>
<rect x="709" y="414" width="6" height="1" fill="#2060d0" fill-opacity="0.645"/>
<rect x="709" y="383" width="1" height="31" fill="#2060d0" fill-opacity="0.645"/>
<rect x="714" y="383" width="1" height="31" fill="#2060d0" fill-opacity="0.645"/>
<rect x="710" y="383" width="4" height="31" fill="#2060d0" fill-opacity="0.58"/>
<rect x="716" y="399" width="6" height="1" fill="#d13a4c" fill-opacity="0.645"/>
<rect x="716" y="414" width="6" height="1" fill="#d13a4c" fill-opacity="0.645"/>
<rect x="716" y="400" width="1" height="14" fill="#d13a4c" fill-opacity="0.645"/>
<rect x="721" y="400" width="1" height="14" fill="#d13a4c" fill-opacity="0.645"/>
<rect x="717" y="400" width="4" height="14" fill="#d13a4c" fill-opacity="0.58"/>
<rect x="723" y="400" width="7" height="1" fill="#2060d0" fill-opacity="0.645"/>
<rect x="723" y="414" width="7" height="1" fill="#2060d0" fill-opacity="0.645"/>
<rect x="723" y="401" width="1" height="13" fill="#2060d0" fill-opacity="0.645"/>
<rect x="729" y="401" width="1" height="13" fill="#2060d0" fill-opacity="0.645"/>
<rect x="724" y="401" width="5" height="13" fill="#2060d0" fill-opacity="0.58"/>
<rect x="731" y="401" width="6" height="1" fill="#d13a4c" fill-opacity="0.645"/>
<rect x="731" y="414" width="6" height="1" fill="#d13a4c" fill-opacity="0.645"/>
<rect x="731" y="402" width="1" height="12" fill="#d13a4c" fill-opacity="0.645"/>
<rect x="736" y="402" width="1" height="12" fill="#d13a4c" fill-opacity="0.645"/>
<rect x="732" y="402" width="4" height="12" fill="#d13a4c" fill-opacity="0.58"/>
<rect x="738" y="393" width="7" height="1" fill="#2060d0" fill-opacity="0.645"/>
<rect x="738" y="414" width="7" height="1" fill="#2060d0" fill-opacity="0.645"/>
<rect x="738" y="394" width="1" height="20" fill="#2060d0" fill-opacity="0.645"/>
<rect x="744" y="394" width="1" height="20" fill="#2060d0" fill-opacity="0.645"/>
<rect x="739" y="394" width="5" height="20" fill="#2060d0" fill-opacity="0.58"/>
<rect x="746" y="405" width="6" height="1" fill="#2060d0" fill-opacity="0.645"/>
<rect x="746" y="414" width="6" height="1" fill="#2060d0" fill-opacity="0.645"/>
<rect x="746" y="406" width="1" height="8" fill="#2060d0" fill-opacity="0.645"/>
<rect x="751" y="406" width="1" height="8" fill="#2060d0" fill-opacity="0.645"/>
<rect x="747" y="406" width="4" height="8" fill="#2060d0" fill-opacity="0.58"/>
<rect x="753" y="398" width="6" height="1" fill="#d13a4c" fill-opacity="0.645"/>
<rect x="753" y="414" width="6" height="1" fill="#d13a4c" fill-opacity="0.645"/>
<rect x="753" y="399" width="1" height="15" fill="#d13a4c" fill-opacity="0.645"/>
<rect x="758" y="399" width="1" height="15" fill="#d13a4c" fill-opacity="0.645"/>
<rect x="754" y="399" width="4" height="15" fill="#d13a4c" fill-opacity="0.58"/>
<rect x="760" y="406" width="7" height="1" fill="#2060d0" fill-opacity="0.645"/>
<rect x="760" y="414" width="7" height="1" fill="#2060d0" fill-opacity="0.645"/>
<rect x="760" y="407" width="1" height="7" fill="#2060d0" fill-opacity="0.645"/>
<rect x="766" y="407" width="1" height="7" fill="#2060d0" fill-opacity="0.645"/>
<rect x="761" y="407" width="5" height="7" fill="#2060d0" fill-opacity="0.58"/>
<rect x="768" y="405" width="6" height="1" fill="#d13a4c" fill-opacity="0.645"/>
<rect x="768" y="414" width="6" height="1" fill="#d13a4c" fill-opacity="0.645"/>
<rect x="768" y="406" width="1" height="8" fill="#d13a4c" fill-opacity="0.645"/>
<rect x="773" y="406" width="1" height="8" fill="#d13a4c" fill-opacity="0.645"/>
<rect x="769" y="406" width="4" height="8" fill="#d13a4c" fill-opacity="0.58"/>
<rect x="775" y="401" width="7" height="1" fill="#d13a4c" fill-opacity="0.645"/>
<rect x="775" y="414" width="7" height="1" fill="#d13a4c" fill-opacity="0.645"/>
<rect x="775" y="402" width="1" height="12" fill="#d13a4c" fill-opacity="0.645"/>
<rect x="781" y="402" width="1" height="12" fill="#d13a4c" fill-opacity="0.645"/>
<rect x="776" y="402" width="5" height="12" fill="#d13a4c" fill-opacity="0.58"/>
<rect x="783" y="388" width="6" height="1" fill="#d13a4c" fill-opacity="0.645"/>
<rect x="783" y="414" width="6" height="1" fill="#d13a4c" fill-opacity="0.645"/>
<rect x="783" y="389" width="1" height="25" fill="#d13a4c" fill-opacity="0.645"/>
<rect x="788" y="389" width="1" height="25" fill="#d13a4c" fill-opacity="0.645"/>
<rect x="784" y="389" width="4" height="25" fill="#d13a4c" fill-opacity="0.58"/>
<rect x="790" y="394" width="6" height="1" fill="#2060d0" fill-opacity="0.645"/>
<rect x="790" y="414" width="6" height="1" fill="#2060d0" fill-opacity="0.645"/>
<rect x="790" y="395" width="1" height="19" fill="#2060d0" fill-opacity="0.645"/>
<rect x="795" y="395" width="1" height="19" fill="#2060d0" fill-opacity="0.645"/>
<rect x="791" y="395" width="4" height="19" fill="#2060d0" fill-opacity="0.58"/>
<rect x="797" y="390" width="7" height="1" fill="#2060d0" fill-opacity="0.645"/>
<rect x="797" y="414" width="7" height="1" fill="#2060d0" fill-opacity="0.645"/>
<rect x="797" y="391" width="1" height="23" fill="#2060d0" fill-opacity="0.645"/>
<rect x="803" y="391" width="1" height="23" fill="#2060d0" fill-opacity="0.645"/>
<rect x="798" y="391" width="5" height="23" fill="#2060d0" fill-opacity="0.58"/>
<rect x="805" y="397" width="6" height="1" fill="#d13a4c" fill-opacity="0.645"/>
<rect x="805" y="414" width="6" height="1" fill="#d13a4c" fill-opacity="0.645"/>
<rect x="805" y="398" width="1" height="16" fill="#d13a4c" fill-opacity="0.645"/>
<rect x="810" y="398" width="1" height="16" fill="#d13a4c" fill-opacity="0.645"/>
<rect x="806" y="398" width="4" height="16" fill="#d13a4c" fill-opacity="0.58"/>
<rect x="812" y="385" width="7" height="1" fill="#d13a4c" fill-opacity="0.645"/>
<rect x="812" y="414" width="7" height="1" fill="#d13a4c" fill-opacity="0.645"/>
<rect x="812" y="386" width="1" height="28" fill="#d13a4c" fill-opacity="0.645"/>
<rect x="818" y="386" width="1" height="28" fill="#d13a4c" fill-opacity="0.645"/>
<rect x="813" y="386" width="5" height="28" fill="#d13a4c" fill-opacity="0.58"/>
<rect x="820" y="393" width="6" height="1" fill="#2060d0" fill-opacity="0.645"/>
<rect x="820" y="414" width="6" height="1" fill="#2060d0" fill-opacity="0.645"/>
<rect x="820" y="394" width="1" height="20" fill="#2060d0" fill-opacity="0.645"/>
<rect x="825" y="394" width="1" height="20" fill="#2060d0" fill-opacity="0.645"/>
<rect x="821" y="394" width="4" height="20" fill="#2060d0" fill-opacity="0.58"/>
<rect x="827" y="394" width="6" height="1" fill="#d13a4c" fill-opacity="0.645"/>
<rect x="827" y="414" width="6" height="1" fill="#d13a4c" fill-opacity="0.645"/>
<rect x="827" y="395" width="1" height="19" fill="#d13a4c" fill-opacity="0.645"/>
<rect x="832" y="395" width="1" height="19" fill="#d13a4c" fill-opacity="0.645"/>
<rect x="828" y="395" width="4" height="19" fill="#d13a4c" fill-opacity="0.58"/>
<rect x="834" y="402" width="7" height="1" fill="#d13a4c" fill-opacity="0.645"/>
<rect x="834" y="414" width="7" height="1" fill="#d13a4c" fill-opacity="0.645"/>
<rect x="834" y="403" width="1" height="11" fill="#d13a4c" fill-opacity="0.645"/>
<rect x="840" y="403" width="1" height="11" fill="#d13a4c" fill-opacity="0.645"/>
<rect x="835" y="403" width="5" height="11" fill="#d13a4c" fill-opacity="0.58"/>
<rect x="842" y="396" width="6" height="1" fill="#2060d0" fill-opacity="0.645"/>
<rect x="842" y="414" width="6" height="1" fill="#2060d0" fill-opacity="0.645"/>
<rect x="842" y="397" width="1" height="17" fill="#2060d0" fill-opacity="0.645"/>
<rect x="847" y="397" width="1" height="17" fill="#2060d0" fill-opacity="0.645"/>
<rect x="843" y="397" width="4" height="17" fill="#2060d0" fill-opacity="0.58"/>
<rect x="849" y="401" width="7" height="1" fill="#2060d0" fill-opacity="0.645"/>
<rect x="849" y="414" width="7" height="1" fill="#2060d0" fill-opacity="0.645"/>
<rect x="849" y="402" width="1" height="12" fill="#2060d0" fill-opacity="0.645"/>
<rect x="855" y="402" width="1" height="12" fill="#2060d0" fill-opacity="0.645"/>
<rect x="850" y="402" width="5" height="12" fill="#2060d0" fill-opacity="0.58"/>
<rect x="857" y="394" width="6" height="1" fill="#d13a4c" fill-opacity="0.645"/>
<rect x="857" y="414" width="6" height="1" fill="#d13a4c" fill-opacity="0.645"/>
<rect x="857" y="395" width="1" height="19" fill="#d13a4c" fill-opacity="0.645"/>
<rect x="862" y="395" width="1" height="19" fill="#d13a4c" fill-opacity="0.645"/>
<rect x="858" y="395" width="4" height="19" fill="#d13a4c" fill-opacity="0.58"/>
<rect x="864" y="394" width="7" height="1" fill="#2060d0" fill-opacity="0.645"/>
<rect x="864" y="414" width="7" height="1" fill="#2060d0" fill-opacity="0.645"/>
<rect x="864" y="395" width="1" height="19" fill="#2060d0" fill-opacity="0.645"/>
<rect x="870" y="395" width="1" height="19" fill="#2060d0" fill-opacity="0.645"/>
<rect x="865" y="395" width="5" height="19" fill="#2060d0" fill-opacity="0.58"/>
<rect x="872" y="398" width="6" height="1" fill="#d13a4c" fill-opacity="0.645"/>
<rect x="872" y="414" width="6" height="1" fill="#d13a4c" fill-opacity="0.645"/>
<rect x="872" y="399" width="1" height="15" fill="#d13a4c" fill-opacity="0.645"/>
<rect x="877" y="399" width="1" height="15" fill="#d13a4c" fill-opacity="0.645"/>
<rect x="873" y="399" width="4" height="15" fill="#d13a4c" fill-opacity="0.58"/>
<rect x="879" y="405" width="6" height="1" fill="#2060d0" fill-opacity="0.645"/>
<rect x="879" y="414" width="6" height="1" fill="#2060d0" fill-opacity="0.645"/>
<rect x="879" y="406" width="1" height="8" fill="#2060d0" fill-opacity="0.645"/>
<rect x="884" y="406" width="1" height="8" fill="#2060d0" fill-opacity="0.645"/>
<rect x="880" y="406" width="4" height="8" fill="#2060d0" fill-opacity="0.58"/>
<rect x="886" y="407" width="7" height="1" fill="#d13a4c" fill-opacity="0.645"/>
<rect x="886" y="414" width="7" height="1" fill="#d13a4c" fill-opacity="0.645"/>
<rect x="886" y="408" width="1" height="6" fill="#d13a4c" fill-opacity="0.645"/>
<rect x="892" y="408" width="1" height="6" fill="#d13a4c" fill-opacity="0.645"/>
<rect x="887" y="408" width="5" height="6" fill="#d13a4c" fill-opacity="0.58"/>
<rect x="894" y="405" width="6" height="1" fill="#d13a4c" fill-opacity="0.645"/>
<rect x="894" y="414" width="6" height="1" fill="#d13a4c" fill-opacity="0.645"/>
<rect x="894" y="406" width="1" height="8" fill="#d13a4c" fill-opacity="0.645"/>
<rect x="899" y="406" width="1" height="8" fill="#d13a4c" fill-opacity="0.645"/>
<rect x="895" y="406" width="4" height="8" fill="#d13a4c" fill-opacity="0.58"/>
<rect x="901" y="405" width="7" height="1" fill="#2060d0" fill-opacity="0.645"/>
<rect x="901" y="414" width="7" height="1" fill="#2060d0" fill-opacity="0.645"/>
<rect x="901" y="406" width="1" height="8" fill="#2060d0" fill-opacity="0.645"/>
<rect x="907" y="406" width="1" height="8" fill="#2060d0" fill-opacity="0.645"/>
<rect x="902" y="406" width="5" height="8" fill="#2060d0" fill-opacity="0.58"/>
<rect x="909" y="397" width="6" height="1" fill="#d13a4c" fill-opacity="0.645"/>
<rect x="909" y="414" width="6" height="1" fill="#d13a4c" fill-opacity="0.645"/>
<rect x="909" y="398" width="1" height="16" fill="#d13a4c" fill-opacity="0.645"/>
<rect x="914" y="398" width="1" height="16" fill="#d13a4c" fill-opacity="0.645"/>
<rect x="910" y="398" width="4" height="16" fill="#d13a4c" fill-opacity="0.58"/>
<rect x="916" y="386" width="6" height="1" fill="#2060d0" fill-opacity="0.645"/>
<rect x="916" y="414" width="6" height="1" fill="#2060d0" fill-opacity="0.645"/>
<rect x="916" y="387" width="1" height="27" fill="#2060d0" fill-opacity="0.645"/>
<rect x="921" y="387" width="1" height="27" fill="#2060d0" fill-opacity="0.645"/>
<rect x="917" y="387" width="4" height="27" fill="#2060d0" fill-opacity="0.58"/>
<rect x="923" y="381" width="7" height="1" fill="#2060d0" fill-opacity="0.645"/>
<rect x="923" y="414" width="7" height="1" fill="#2060d0" fill-opacity="0.645"/>
<rect x="923" y="382" width="1" height="32" fill="#2060d0" fill-opacity="0.645"/>
<rect x="929" y="382" width="1" height="32" fill="#2060d0" fill-opacity="0.645"/>
<rect x="924" y="382" width="5" height="32" fill="#2060d0" fill-opacity="0.58"/>
<rect x="931" y="401" width="6" height="1" fill="#d13a4c" fill-opacity="0.645"/>
<rect x="931" y="414" width="6" height="1" fill="#d13a4c" fill-opacity="0.645"/>
<rect x="931" y="402" width="1" height="12" fill="#d13a4c" fill-opacity="0.645"/>
<rect x="936" y="402" width="1" height="12" fill="#d13a4c" fill-opacity="0.645"/>
<rect x="932" y="402" width="4" height="12" fill="#d13a4c" fill-opacity="0.58"/>
<rect x="938" y="403" width="7" height="1" fill="#d13a4c" fill-opacity="0.645"/>
<rect x="938" y="414" width="7" height="1" fill="#d13a4c" fill-opacity="0.645"/>
<rect x="938" y="404" width="1" height="10" fill="#d13a4c" fill-opacity="0.645"/>
<rect x="944" y="404" width="1" height="10" fill="#d13a4c" fill-opacity="0.645"/>
<rect x="939" y="404" width="5" height="10" fill="#d13a4c" fill-opacity="0.58"/>
<rect x="946" y="406" width="6" height="1" fill="#2060d0" fill-opacity="0.645"/>
<rect x="946" y="414" width="6" height="1" fill="#2060d0" fill-opacity="0.645"/>
<rect x="946" y="407" width="1" height="7" fill="#2060d0" fill-opacity="0.645"/>
<rect x="951" y="407" width="1" height="7" fill="#2060d0" fill-opacity="0.645"/>
<rect x="947" y="407" width="4" height="7" fill="#2060d0" fill-opacity="0.58"/>
<rect x="953" y="405" width="6" height="1" fill="#d13a4c" fill-opacity="0.645"/>
<rect x="953" y="414" width="6" height="1" fill="#d13a4c" fill-opacity="0.645"/>
<rect x="953" y="406" width="1" height="8" fill="#d13a4c" fill-opacity="0.645"/>
<rect x="958" y="406" width="1" height="8" fill="#d13a4c" fill-opacity="0.645"/>
<rect x="954" y="406" width="4" height="8" fill="#d13a4c" fill-opacity="0.58"/>
<rect x="960" y="394" width="7" height="1" fill="#2060d0" fill-opacity="0.645"/>
<rect x="960" y="414" width="7" height="1" fill="#2060d0" fill-opacity="0.645"/>
<rect x="960" y="395" width="1" height="19" fill="#2060d0" fill-opacity="0.645"/>
<rect x="966" y="395" width="1" height="19" fill="#2060d0" fill-opacity="0.645"/>
<rect x="961" y="395" width="5" height="19" fill="#2060d0" fill-opacity="0.58"/>
<rect x="968" y="405" width="6" height="1" fill="#d13a4c" fill-opacity="0.645"/>
<rect x="968" y="414" width="6" height="1" fill="#d13a4c" fill-opacity="0.645"/>
<rect x="968" y="406" width="1" height="8" fill="#d13a4c" fill-opacity="0.645"/>
<rect x="973" y="406" width="1" height="8" fill="#d13a4c" fill-opacity="0.645"/>
<rect x="969" y="406" width="4" height="8" fill="#d13a4c" fill-opacity="0.58"/>
<rect x="975" y="407" width="8" height="1" fill="#d13a4c" fill-opacity="0.645"/>
<rect x="975" y="414" width="8" height="1" fill="#d13a4c" fill-opacity="0.645"/>
<rect x="975" y="408" width="1" height="6" fill="#d13a4c" fill-opacity="0.645"/>
<rect x="982" y="408" width="1" height="6" fill="#d13a4c" fill-opacity="0.645"/>
<rect x="976" y="408" width="6" height="6" fill="#d13a4c" fill-opacity="0.58"/>
</g>
<path d="M8.6 217.4 L20.0 217.6 L31.0 218.5 L45.0 219.3 L60.0 220.4 L80.0 222.5 L100.0 224.2 L120.0 225.6 L150.0 228.4 L180.0 229.7 L200.0 231.5 L225.0 232.4 L245.0 232.4 L260.0 233.4 L280.0 235.0 L300.0 236.7 L320.0 238.4 L340.0 240.2 L355.0 243.2 L370.0 246.4 L390.0 250.0 L417.0 255.0 L440.0 258.5 L460.0 261.2 L480.0 263.7 L500.0 265.2 L520.0 264.2 L540.0 262.2 L563.0 259.0 L580.0 256.5 L590.0 255.0 L608.0 253.2 L637.0 248.8 L653.5 245.9 L668.0 244.1 L688.0 239.0 L699.0 236.8 L717.0 230.7 L742.4 222.7 L764.0 215.4 L786.0 208.2 L800.5 201.6 L818.6 193.7 L831.3 187.1 L851.2 178.8 L873.0 169.7 L887.5 161.7 L905.7 153.4 L927.4 144.7 L943.8 140.0 L952.8 136.3 L965.5 134.5 L978.2 131.2" fill="none" stroke="#6fd5e3" stroke-width="1.1" stroke-linejoin="round"/>
<path d="M8.6 219.1 L20.0 220.1 L31.0 220.4 L40.0 221.0 L50.0 223.5 L62.0 226.2 L75.0 229.6 L85.0 233.3 L95.0 235.8 L100.0 236.4 L110.0 238.9 L120.0 241.0 L135.0 244.2 L148.0 247.5 L156.0 246.6 L180.0 246.6 L200.0 245.4 L230.0 245.4 L245.0 245.6 L260.0 246.4 L280.0 248.5 L300.0 251.0 L320.0 253.3 L335.0 255.3 L342.0 256.8 L350.0 260.5 L360.0 265.9 L370.0 270.5 L380.0 276.0 L400.0 283.3 L408.8 286.4 L417.7 289.5 L426.5 292.1 L435.4 294.3 L444.2 296.5 L451.3 298.3 L460.2 298.5 L467.3 297.6 L475.2 296.8 L479.6 294.8 L488.5 290.4 L500.0 285.2 L512.0 279.5 L522.0 272.7 L531.7 262.8 L541.6 254.6 L549.0 248.4 L556.4 241.2 L563.0 232.8 L580.0 218.3 L598.0 205.0 L605.0 199.8 L610.0 197.0 L615.0 194.0 L625.0 192.0 L640.0 188.4 L655.0 185.6 L668.0 184.2 L676.4 180.9 L686.7 176.1 L697.0 171.0 L707.3 164.4 L715.0 159.7 L720.0 157.0 L741.0 141.4 L750.0 138.2 L765.0 129.6 L780.0 123.8 L790.0 119.0 L800.0 115.8 L815.0 112.0 L830.0 109.0 L845.0 107.0 L860.0 103.0 L868.0 102.0 L880.0 100.4 L890.0 99.0 L900.0 97.5 L905.0 97.0 L912.0 95.6 L926.0 95.5 L935.0 98.5 L950.0 101.4 L965.0 102.6 L972.0 102.0 L978.5 101.4" fill="none" stroke="#ff9f60" stroke-width="1.1" stroke-linejoin="round"/>
<g shape-rendering="crispEdges">
<rect x="8" y="219" width="1" height="4" fill="#1350cb"/>
<rect x="7" y="221" width="4" height="2" fill="#1350cb"/>
<rect x="15" y="222" width="1" height="3" fill="#1350cb"/>
<rect x="13" y="222" width="5" height="3" fill="#1350cb"/>
<rect x="14" y="223" width="3" height="1" fill="#2060d0"/>
<rect x="23" y="222" width="1" height="4" fill="#ca2e40"/>
<rect x="21" y="223" width="5" height="2" fill="#ca2e40"/>
<rect x="30" y="220" width="1" height="5" fill="#ca2e40"/>
<rect x="28" y="221" width="5" height="3" fill="#ca2e40"/>
<rect x="29" y="222" width="3" height="1" fill="#d13a4c"/>
<rect x="37" y="219" width="1" height="3" fill="#ca2e40"/>
<rect x="35" y="220" width="5" height="2" fill="#ca2e40"/>
<rect x="45" y="218" width="1" height="31" fill="#1350cb"/>
<rect x="43" y="220" width="5" height="27" fill="#1350cb"/>
<rect x="44" y="221" width="3" height="25" fill="#2060d0"/>
<rect x="52" y="245" width="1" height="3" fill="#ca2e40"/>
<rect x="50" y="246" width="5" height="1" fill="#ca2e40"/>
<rect x="60" y="245" width="1" height="5" fill="#1350cb"/>
<rect x="58" y="246" width="5" height="4" fill="#1350cb"/>
<rect x="59" y="247" width="3" height="2" fill="#2060d0"/>
<rect x="67" y="246" width="1" height="6" fill="#ca2e40"/>
<rect x="65" y="247" width="5" height="3" fill="#ca2e40"/>
<rect x="66" y="248" width="3" height="1" fill="#d13a4c"/>
<rect x="75" y="246" width="1" height="4" fill="#1350cb"/>
<rect x="73" y="247" width="5" height="2" fill="#1350cb"/>
<rect x="82" y="247" width="1" height="5" fill="#1350cb"/>
<rect x="80" y="248" width="5" height="3" fill="#1350cb"/>
<rect x="81" y="249" width="3" height="1" fill="#2060d0"/>
<rect x="89" y="246" width="1" height="5" fill="#ca2e40"/>
<rect x="87" y="248" width="5" height="3" fill="#ca2e40"/>
<rect x="88" y="249" width="3" height="1" fill="#d13a4c"/>
<rect x="97" y="245" width="1" height="4" fill="#ca2e40"/>
<rect x="95" y="246" width="5" height="3" fill="#ca2e40"/>
<rect x="96" y="247" width="3" height="1" fill="#d13a4c"/>
<rect x="104" y="246" width="1" height="1" fill="#ca2e40"/>
<rect x="102" y="246" width="5" height="1" fill="#ca2e40"/>
<rect x="112" y="244" width="1" height="4" fill="#1350cb"/>
<rect x="110" y="246" width="5" height="2" fill="#1350cb"/>
<rect x="119" y="246" width="1" height="2" fill="#1350cb"/>
<rect x="117" y="247" width="5" height="1" fill="#1350cb"/>
<rect x="126" y="244" width="1" height="4" fill="#ca2e40"/>
<rect x="124" y="246" width="5" height="2" fill="#ca2e40"/>
<rect x="134" y="241" width="1" height="9" fill="#1350cb"/>
<rect x="132" y="246" width="5" height="1" fill="#1350cb"/>
<rect x="141" y="243" width="1" height="4" fill="#ca2e40"/>
<rect x="139" y="243" width="5" height="4" fill="#ca2e40"/>
<rect x="140" y="244" width="3" height="2" fill="#d13a4c"/>
<rect x="149" y="242" width="1" height="3" fill="#ca2e40"/>
<rect x="147" y="243" width="5" height="1" fill="#ca2e40"/>
<rect x="156" y="242" width="1" height="3" fill="#1350cb"/>
<rect x="154" y="243" width="5" height="2" fill="#1350cb"/>
<rect x="163" y="243" width="1" height="2" fill="#ca2e40"/>
<rect x="161" y="243" width="5" height="2" fill="#ca2e40"/>
<rect x="171" y="240" width="1" height="5" fill="#ca2e40"/>
<rect x="169" y="242" width="5" height="2" fill="#ca2e40"/>
<rect x="178" y="242" width="1" height="5" fill="#1350cb"/>
<rect x="176" y="242" width="5" height="5" fill="#1350cb"/>
<rect x="177" y="243" width="3" height="3" fill="#2060d0"/>
<rect x="186" y="245" width="1" height="5" fill="#1350cb"/>
<rect x="184" y="246" width="5" height="2" fill="#1350cb"/>
<rect x="193" y="246" width="1" height="2" fill="#ca2e40"/>
<rect x="191" y="246" width="5" height="2" fill="#ca2e40"/>
<rect x="200" y="244" width="1" height="3" fill="#ca2e40"/>
<rect x="198" y="245" width="5" height="2" fill="#ca2e40"/>
<rect x="208" y="241" width="1" height="5" fill="#ca2e40"/>
<rect x="206" y="244" width="5" height="2" fill="#ca2e40"/>
<rect x="215" y="244" width="1" height="4" fill="#1350cb"/>
<rect x="213" y="244" width="5" height="3" fill="#1350cb"/>
<rect x="214" y="245" width="3" height="1" fill="#2060d0"/>
<rect x="223" y="243" width="1" height="5" fill="#ca2e40"/>
<rect x="221" y="245" width="5" height="2" fill="#ca2e40"/>
<rect x="230" y="243" width="1" height="5" fill="#1350cb"/>
<rect x="228" y="244" width="5" height="4" fill="#1350cb"/>
<rect x="229" y="245" width="3" height="2" fill="#2060d0"/>
<rect x="237" y="245" width="1" height="3" fill="#ca2e40"/>
<rect x="235" y="247" width="5" height="1" fill="#ca2e40"/>
<rect x="245" y="246" width="1" height="5" fill="#1350cb"/>
<rect x="243" y="246" width="5" height="4" fill="#1350cb"/>
<rect x="244" y="247" width="3" height="2" fill="#2060d0"/>
<rect x="252" y="244" width="1" height="14" fill="#ca2e40"/>
<rect x="250" y="249" width="5" height="1" fill="#ca2e40"/>
<rect x="260" y="248" width="1" height="9" fill="#1350cb"/>
<rect x="258" y="250" width="5" height="5" fill="#1350cb"/>
<rect x="259" y="251" width="3" height="3" fill="#2060d0"/>
<rect x="267" y="250" width="1" height="5" fill="#ca2e40"/>
<rect x="265" y="252" width="5" height="3" fill="#ca2e40"/>
<rect x="266" y="253" width="3" height="1" fill="#d13a4c"/>
<rect x="275" y="252" width="1" height="7" fill="#1350cb"/>
<rect x="273" y="252" width="5" height="5" fill="#1350cb"/>
<rect x="274" y="253" width="3" height="3" fill="#2060d0"/>
<rect x="282" y="255" width="1" height="3" fill="#ca2e40"/>
<rect x="280" y="255" width="5" height="2" fill="#ca2e40"/>
<rect x="289" y="255" width="1" height="3" fill="#1350cb"/>
<rect x="287" y="255" width="5" height="3" fill="#1350cb"/>
<rect x="288" y="256" width="3" height="1" fill="#2060d0"/>
<rect x="297" y="250" width="1" height="9" fill="#ca2e40"/>
<rect x="295" y="255" width="5" height="3" fill="#ca2e40"/>
<rect x="296" y="256" width="3" height="1" fill="#d13a4c"/>
<rect x="304" y="253" width="1" height="7" fill="#1350cb"/>
<rect x="302" y="255" width="5" height="5" fill="#1350cb"/>
<rect x="303" y="256" width="3" height="3" fill="#2060d0"/>
<rect x="312" y="258" width="1" height="6" fill="#1350cb"/>
<rect x="310" y="259" width="5" height="2" fill="#1350cb"/>
<rect x="319" y="260" width="1" height="3" fill="#1350cb"/>
<rect x="317" y="260" width="5" height="3" fill="#1350cb"/>
<rect x="318" y="261" width="3" height="1" fill="#2060d0"/>
<rect x="326" y="262" width="1" height="4" fill="#1350cb"/>
<rect x="324" y="262" width="5" height="3" fill="#1350cb"/>
<rect x="325" y="263" width="3" height="1" fill="#2060d0"/>
<rect x="334" y="260" width="1" height="6" fill="#ca2e40"/>
<rect x="332" y="262" width="5" height="3" fill="#ca2e40"/>
<rect x="333" y="263" width="3" height="1" fill="#d13a4c"/>
<rect x="341" y="261" width="1" height="18" fill="#1350cb"/>
<rect x="339" y="262" width="5" height="16" fill="#1350cb"/>
<rect x="340" y="263" width="3" height="14" fill="#2060d0"/>
<rect x="349" y="278" width="1" height="18" fill="#1350cb"/>
<rect x="347" y="278" width="5" height="14" fill="#1350cb"/>
<rect x="348" y="279" width="3" height="12" fill="#2060d0"/>
<rect x="356" y="291" width="1" height="19" fill="#1350cb"/>
<rect x="354" y="291" width="5" height="11" fill="#1350cb"/>
<rect x="355" y="292" width="3" height="9" fill="#2060d0"/>
<rect x="363" y="300" width="1" height="8" fill="#1350cb"/>
<rect x="361" y="302" width="5" height="4" fill="#1350cb"/>
<rect x="362" y="303" width="3" height="2" fill="#2060d0"/>
<rect x="371" y="301" width="1" height="9" fill="#1350cb"/>
<rect x="369" y="305" width="5" height="5" fill="#1350cb"/>
<rect x="370" y="306" width="3" height="3" fill="#2060d0"/>
<rect x="378" y="292" width="1" height="18" fill="#ca2e40"/>
<rect x="376" y="306" width="5" height="4" fill="#ca2e40"/>
<rect x="377" y="307" width="3" height="2" fill="#d13a4c"/>
<rect x="386" y="295" width="1" height="12" fill="#ca2e40"/>
<rect x="384" y="305" width="5" height="2" fill="#ca2e40"/>
<rect x="393" y="297" width="1" height="9" fill="#ca2e40"/>
<rect x="391" y="299" width="5" height="7" fill="#ca2e40"/>
<rect x="392" y="300" width="3" height="5" fill="#d13a4c"/>
<rect x="400" y="282" width="1" height="18" fill="#ca2e40"/>
<rect x="398" y="287" width="5" height="13" fill="#ca2e40"/>
<rect x="399" y="288" width="3" height="11" fill="#d13a4c"/>
<rect x="408" y="287" width="1" height="9" fill="#1350cb"/>
<rect x="406" y="287" width="5" height="8" fill="#1350cb"/>
<rect x="407" y="288" width="3" height="6" fill="#2060d0"/>
<rect x="415" y="293" width="1" height="13" fill="#1350cb"/>
<rect x="413" y="294" width="5" height="7" fill="#1350cb"/>
<rect x="414" y="295" width="3" height="5" fill="#2060d0"/>
<rect x="423" y="293" width="1" height="8" fill="#ca2e40"/>
<rect x="421" y="295" width="5" height="6" fill="#ca2e40"/>
<rect x="422" y="296" width="3" height="4" fill="#d13a4c"/>
<rect x="430" y="291" width="1" height="7" fill="#ca2e40"/>
<rect x="428" y="293" width="5" height="3" fill="#ca2e40"/>
<rect x="429" y="294" width="3" height="1" fill="#d13a4c"/>
<rect x="437" y="289" width="1" height="6" fill="#ca2e40"/>
<rect x="435" y="291" width="5" height="3" fill="#ca2e40"/>
<rect x="436" y="292" width="3" height="1" fill="#d13a4c"/>
<rect x="445" y="287" width="1" height="7" fill="#1350cb"/>
<rect x="443" y="291" width="5" height="2" fill="#1350cb"/>
<rect x="452" y="291" width="1" height="5" fill="#1350cb"/>
<rect x="450" y="292" width="5" height="4" fill="#1350cb"/>
<rect x="451" y="293" width="3" height="2" fill="#2060d0"/>
<rect x="460" y="292" width="1" height="4" fill="#ca2e40"/>
<rect x="458" y="293" width="5" height="3" fill="#ca2e40"/>
<rect x="459" y="294" width="3" height="1" fill="#d13a4c"/>
<rect x="467" y="291" width="1" height="6" fill="#1350cb"/>
<rect x="465" y="293" width="5" height="4" fill="#1350cb"/>
<rect x="466" y="294" width="3" height="2" fill="#2060d0"/>
<rect x="475" y="274" width="1" height="24" fill="#ca2e40"/>
<rect x="473" y="280" width="5" height="17" fill="#ca2e40"/>
<rect x="474" y="281" width="3" height="15" fill="#d13a4c"/>
<rect x="482" y="263" width="1" height="26" fill="#ca2e40"/>
<rect x="480" y="266" width="5" height="16" fill="#ca2e40"/>
<rect x="481" y="267" width="3" height="14" fill="#d13a4c"/>
<rect x="489" y="247" width="1" height="22" fill="#ca2e40"/>
<rect x="487" y="258" width="5" height="9" fill="#ca2e40"/>
<rect x="488" y="259" width="3" height="7" fill="#d13a4c"/>
<rect x="497" y="249" width="1" height="11" fill="#ca2e40"/>
<rect x="495" y="252" width="5" height="7" fill="#ca2e40"/>
<rect x="496" y="253" width="3" height="5" fill="#d13a4c"/>
<rect x="504" y="247" width="1" height="17" fill="#1350cb"/>
<rect x="502" y="252" width="5" height="5" fill="#1350cb"/>
<rect x="503" y="253" width="3" height="3" fill="#2060d0"/>
<rect x="512" y="223" width="1" height="36" fill="#ca2e40"/>
<rect x="510" y="224" width="5" height="33" fill="#ca2e40"/>
<rect x="511" y="225" width="3" height="31" fill="#d13a4c"/>
<rect x="519" y="202" width="1" height="22" fill="#ca2e40"/>
<rect x="517" y="204" width="5" height="20" fill="#ca2e40"/>
<rect x="518" y="205" width="3" height="18" fill="#d13a4c"/>
<rect x="526" y="202" width="1" height="8" fill="#1350cb"/>
<rect x="524" y="204" width="5" height="1" fill="#1350cb"/>
<rect x="534" y="197" width="1" height="14" fill="#ca2e40"/>
<rect x="532" y="202" width="5" height="3" fill="#ca2e40"/>
<rect x="533" y="203" width="3" height="1" fill="#d13a4c"/>
<rect x="541" y="190" width="1" height="13" fill="#ca2e40"/>
<rect x="539" y="200" width="5" height="2" fill="#ca2e40"/>
<rect x="549" y="194" width="1" height="15" fill="#ca2e40"/>
<rect x="547" y="195" width="5" height="7" fill="#ca2e40"/>
<rect x="548" y="196" width="3" height="5" fill="#d13a4c"/>
<rect x="556" y="154" width="1" height="44" fill="#ca2e40"/>
<rect x="554" y="168" width="5" height="28" fill="#ca2e40"/>
<rect x="555" y="169" width="3" height="26" fill="#d13a4c"/>
<rect x="563" y="162" width="1" height="27" fill="#1350cb"/>
<rect x="561" y="168" width="5" height="20" fill="#1350cb"/>
<rect x="562" y="169" width="3" height="18" fill="#2060d0"/>
<rect x="571" y="182" width="1" height="26" fill="#1350cb"/>
<rect x="569" y="187" width="5" height="6" fill="#1350cb"/>
<rect x="570" y="188" width="3" height="4" fill="#2060d0"/>
<rect x="578" y="182" width="1" height="20" fill="#ca2e40"/>
<rect x="576" y="189" width="5" height="4" fill="#ca2e40"/>
<rect x="577" y="190" width="3" height="2" fill="#d13a4c"/>
<rect x="586" y="188" width="1" height="6" fill="#1350cb"/>
<rect x="584" y="189" width="5" height="3" fill="#1350cb"/>
<rect x="585" y="190" width="3" height="1" fill="#2060d0"/>
<rect x="593" y="186" width="1" height="10" fill="#1350cb"/>
<rect x="591" y="191" width="5" height="3" fill="#1350cb"/>
<rect x="592" y="192" width="3" height="1" fill="#2060d0"/>
<rect x="600" y="173" width="1" height="25" fill="#ca2e40"/>
<rect x="598" y="182" width="5" height="12" fill="#ca2e40"/>
<rect x="599" y="183" width="3" height="10" fill="#d13a4c"/>
<rect x="608" y="180" width="1" height="20" fill="#1350cb"/>
<rect x="606" y="182" width="5" height="6" fill="#1350cb"/>
<rect x="607" y="183" width="3" height="4" fill="#2060d0"/>
<rect x="615" y="182" width="1" height="11" fill="#1350cb"/>
<rect x="613" y="187" width="5" height="1" fill="#1350cb"/>
<rect x="623" y="186" width="1" height="10" fill="#1350cb"/>
<rect x="621" y="187" width="5" height="6" fill="#1350cb"/>
<rect x="622" y="188" width="3" height="4" fill="#2060d0"/>
<rect x="630" y="188" width="1" height="8" fill="#ca2e40"/>
<rect x="628" y="188" width="5" height="6" fill="#ca2e40"/>
<rect x="629" y="189" width="3" height="4" fill="#d13a4c"/>
<rect x="637" y="173" width="1" height="17" fill="#ca2e40"/>
<rect x="635" y="176" width="5" height="13" fill="#ca2e40"/>
<rect x="636" y="177" width="3" height="11" fill="#d13a4c"/>
<rect x="645" y="175" width="1" height="9" fill="#1350cb"/>
<rect x="643" y="176" width="5" height="5" fill="#1350cb"/>
<rect x="644" y="177" width="3" height="3" fill="#2060d0"/>
<rect x="652" y="177" width="1" height="8" fill="#1350cb"/>
<rect x="650" y="180" width="5" height="1" fill="#1350cb"/>
<rect x="660" y="173" width="1" height="11" fill="#ca2e40"/>
<rect x="658" y="176" width="5" height="5" fill="#ca2e40"/>
<rect x="659" y="177" width="3" height="3" fill="#d13a4c"/>
<rect x="667" y="152" width="1" height="25" fill="#ca2e40"/>
<rect x="665" y="158" width="5" height="19" fill="#ca2e40"/>
<rect x="666" y="159" width="3" height="17" fill="#d13a4c"/>
<rect x="675" y="146" width="1" height="13" fill="#ca2e40"/>
<rect x="673" y="147" width="5" height="12" fill="#ca2e40"/>
<rect x="674" y="148" width="3" height="10" fill="#d13a4c"/>
<rect x="682" y="130" width="1" height="22" fill="#ca2e40"/>
<rect x="680" y="132" width="5" height="16" fill="#ca2e40"/>
<rect x="681" y="133" width="3" height="14" fill="#d13a4c"/>
<rect x="689" y="125" width="1" height="23" fill="#1350cb"/>
<rect x="687" y="132" width="5" height="12" fill="#1350cb"/>
<rect x="688" y="133" width="3" height="10" fill="#2060d0"/>
<rect x="697" y="132" width="1" height="12" fill="#ca2e40"/>
<rect x="695" y="135" width="5" height="9" fill="#ca2e40"/>
<rect x="696" y="136" width="3" height="7" fill="#d13a4c"/>
<rect x="704" y="108" width="1" height="28" fill="#ca2e40"/>
<rect x="702" y="113" width="5" height="23" fill="#ca2e40"/>
<rect x="703" y="114" width="3" height="21" fill="#d13a4c"/>
<rect x="712" y="109" width="1" height="12" fill="#1350cb"/>
<rect x="710" y="113" width="5" height="6" fill="#1350cb"/>
<rect x="711" y="114" width="3" height="4" fill="#2060d0"/>
<rect x="719" y="112" width="1" height="9" fill="#ca2e40"/>
<rect x="717" y="114" width="5" height="5" fill="#ca2e40"/>
<rect x="718" y="115" width="3" height="3" fill="#d13a4c"/>
<rect x="726" y="114" width="1" height="9" fill="#1350cb"/>
<rect x="724" y="114" width="5" height="2" fill="#1350cb"/>
<rect x="734" y="113" width="1" height="6" fill="#ca2e40"/>
<rect x="732" y="114" width="5" height="2" fill="#ca2e40"/>
<rect x="741" y="113" width="1" height="17" fill="#1350cb"/>
<rect x="739" y="114" width="5" height="6" fill="#1350cb"/>
<rect x="740" y="115" width="3" height="4" fill="#2060d0"/>
<rect x="749" y="115" width="1" height="13" fill="#1350cb"/>
<rect x="747" y="119" width="5" height="9" fill="#1350cb"/>
<rect x="748" y="120" width="3" height="7" fill="#2060d0"/>
<rect x="756" y="117" width="1" height="13" fill="#ca2e40"/>
<rect x="754" y="119" width="5" height="9" fill="#ca2e40"/>
<rect x="755" y="120" width="3" height="7" fill="#d13a4c"/>
<rect x="763" y="117" width="1" height="10" fill="#1350cb"/>
<rect x="761" y="119" width="5" height="8" fill="#1350cb"/>
<rect x="762" y="120" width="3" height="6" fill="#2060d0"/>
<rect x="771" y="120" width="1" height="7" fill="#ca2e40"/>
<rect x="769" y="124" width="5" height="2" fill="#ca2e40"/>
<rect x="778" y="117" width="1" height="10" fill="#ca2e40"/>
<rect x="776" y="118" width="5" height="7" fill="#ca2e40"/>
<rect x="777" y="119" width="3" height="5" fill="#d13a4c"/>
<rect x="786" y="92" width="1" height="27" fill="#ca2e40"/>
<rect x="784" y="92" width="5" height="27" fill="#ca2e40"/>
<rect x="785" y="93" width="3" height="25" fill="#d13a4c"/>
<rect x="793" y="91" width="1" height="14" fill="#1350cb"/>
<rect x="791" y="92" width="5" height="3" fill="#1350cb"/>
<rect x="792" y="93" width="3" height="1" fill="#2060d0"/>
<rect x="800" y="90" width="1" height="25" fill="#1350cb"/>
<rect x="798" y="94" width="5" height="18" fill="#1350cb"/>
<rect x="799" y="95" width="3" height="16" fill="#2060d0"/>
<rect x="808" y="101" width="1" height="15" fill="#ca2e40"/>
<rect x="806" y="103" width="5" height="9" fill="#ca2e40"/>
<rect x="807" y="104" width="3" height="7" fill="#d13a4c"/>
<rect x="815" y="85" width="1" height="19" fill="#ca2e40"/>
<rect x="813" y="92" width="5" height="12" fill="#ca2e40"/>
<rect x="814" y="93" width="3" height="10" fill="#d13a4c"/>
<rect x="823" y="89" width="1" height="11" fill="#1350cb"/>
<rect x="821" y="92" width="5" height="2" fill="#1350cb"/>
<rect x="830" y="89" width="1" height="18" fill="#ca2e40"/>
<rect x="828" y="91" width="5" height="3" fill="#ca2e40"/>
<rect x="829" y="92" width="3" height="1" fill="#d13a4c"/>
<rect x="837" y="86" width="1" height="11" fill="#ca2e40"/>
<rect x="835" y="91" width="5" height="1" fill="#ca2e40"/>
<rect x="845" y="90" width="1" height="10" fill="#1350cb"/>
<rect x="843" y="91" width="5" height="8" fill="#1350cb"/>
<rect x="844" y="92" width="3" height="6" fill="#2060d0"/>
<rect x="852" y="94" width="1" height="7" fill="#1350cb"/>
<rect x="850" y="98" width="5" height="3" fill="#1350cb"/>
<rect x="851" y="99" width="3" height="1" fill="#2060d0"/>
<rect x="860" y="92" width="1" height="19" fill="#ca2e40"/>
<rect x="858" y="98" width="5" height="3" fill="#ca2e40"/>
<rect x="859" y="99" width="3" height="1" fill="#d13a4c"/>
<rect x="867" y="91" width="1" height="13" fill="#1350cb"/>
<rect x="865" y="97" width="5" height="5" fill="#1350cb"/>
<rect x="866" y="98" width="3" height="3" fill="#2060d0"/>
<rect x="875" y="89" width="1" height="13" fill="#ca2e40"/>
<rect x="873" y="94" width="5" height="8" fill="#ca2e40"/>
<rect x="874" y="95" width="3" height="6" fill="#d13a4c"/>
<rect x="882" y="93" width="1" height="9" fill="#1350cb"/>
<rect x="880" y="94" width="5" height="6" fill="#1350cb"/>
<rect x="881" y="95" width="3" height="4" fill="#2060d0"/>
<rect x="889" y="96" width="1" height="4" fill="#ca2e40"/>
<rect x="887" y="97" width="5" height="3" fill="#ca2e40"/>
<rect x="888" y="98" width="3" height="1" fill="#d13a4c"/>
<rect x="897" y="92" width="1" height="6" fill="#ca2e40"/>
<rect x="895" y="93" width="5" height="5" fill="#ca2e40"/>
<rect x="896" y="94" width="3" height="3" fill="#d13a4c"/>
<rect x="904" y="92" width="1" height="6" fill="#1350cb"/>
<rect x="902" y="93" width="5" height="2" fill="#1350cb"/>
<rect x="912" y="80" width="1" height="16" fill="#ca2e40"/>
<rect x="910" y="84" width="5" height="12" fill="#ca2e40"/>
<rect x="911" y="85" width="3" height="10" fill="#d13a4c"/>
<rect x="919" y="73" width="1" height="25" fill="#1350cb"/>
<rect x="917" y="84" width="5" height="12" fill="#1350cb"/>
<rect x="918" y="85" width="3" height="10" fill="#2060d0"/>
<rect x="926" y="95" width="1" height="34" fill="#1350cb"/>
<rect x="924" y="95" width="5" height="22" fill="#1350cb"/>
<rect x="925" y="96" width="3" height="20" fill="#2060d0"/>
<rect x="934" y="110" width="1" height="9" fill="#ca2e40"/>
<rect x="932" y="116" width="5" height="1" fill="#ca2e40"/>
<rect x="941" y="112" width="1" height="11" fill="#ca2e40"/>
<rect x="939" y="113" width="5" height="4" fill="#ca2e40"/>
<rect x="940" y="114" width="3" height="2" fill="#d13a4c"/>
<rect x="949" y="111" width="1" height="5" fill="#1350cb"/>
<rect x="947" y="113" width="5" height="2" fill="#1350cb"/>
<rect x="956" y="104" width="1" height="16" fill="#ca2e40"/>
<rect x="954" y="104" width="5" height="11" fill="#ca2e40"/>
<rect x="955" y="105" width="3" height="9" fill="#d13a4c"/>
<rect x="963" y="89" width="1" height="21" fill="#1350cb"/>
<rect x="961" y="104" width="5" height="5" fill="#1350cb"/>
<rect x="962" y="105" width="3" height="3" fill="#2060d0"/>
<rect x="971" y="94" width="1" height="17" fill="#ca2e40"/>
<rect x="969" y="96" width="5" height="12" fill="#ca2e40"/>
<rect x="970" y="97" width="3" height="10" fill="#d13a4c"/>
<rect x="978" y="91" width="1" height="9" fill="#ca2e40"/>
<rect x="976" y="95" width="5" height="2" fill="#ca2e40"/>
</g>
<line x1="7" y1="95.5" x2="1057" y2="95.5" stroke="#d1384d" stroke-width="1" stroke-dasharray="2 1" shape-rendering="crispEdges"/>
<g shape-rendering="crispEdges" fill="#4a4e5a">
<rect x="6" y="43" width="1118" height="1"/>
<rect x="6" y="43" width="1" height="407"/>
<rect x="1123" y="43" width="1" height="407"/>
<rect x="6" y="449" width="1118" height="1"/>
<rect x="1057" y="43" width="1" height="407"/>
<rect x="6" y="334" width="1118" height="1"/>
<rect x="6" y="422" width="1118" height="1"/>
<rect x="1058" y="81" width="4" height="1"/>
<rect x="1058" y="121" width="4" height="1"/>
<rect x="1058" y="161" width="4" height="1"/>
<rect x="1058" y="202" width="4" height="1"/>
<rect x="1058" y="242" width="4" height="1"/>
<rect x="1058" y="283" width="4" height="1"/>
<rect x="1058" y="323" width="4" height="1"/>
<rect x="1058" y="356" width="4" height="1"/>
<rect x="1058" y="385" width="4" height="1"/>
<rect x="1058" y="414" width="4" height="1"/>
<rect x="31" y="423" width="1" height="3"/>
<rect x="120" y="423" width="1" height="3"/>
<rect x="209" y="423" width="1" height="3"/>
<rect x="298" y="423" width="1" height="3"/>
<rect x="387" y="423" width="1" height="3"/>
<rect x="476" y="423" width="1" height="3"/>
<rect x="564" y="423" width="1" height="3"/>
<rect x="653" y="423" width="1" height="3"/>
<rect x="742" y="423" width="1" height="3"/>
<rect x="831" y="423" width="1" height="3"/>
<rect x="920" y="423" width="1" height="3"/>
<rect x="1009" y="423" width="1" height="3"/>
</g>
<text class="ax" x="1066" y="86.0">38000000</text>
<text class="ax" x="1066" y="126.0">36000000</text>
<text class="ax" x="1066" y="166.0">34000000</text>
<text class="ax" x="1066" y="207.0">32000000</text>
<text class="ax" x="1066" y="247.0">30000000</text>
<text class="ax" x="1066" y="288.0">28000000</text>
<text class="ax" x="1066" y="328.0">26000000</text>
<text class="ax" x="1066" y="361.0">2K</text>
<text class="ax" x="1066" y="390.0">1K</text>
<text class="ax" x="1066" y="419.0">0</text>
<text class="ax" x="31.5" y="440.8" text-anchor="middle" style="font-weight:bold;fill:#707070">3</text>
<text class="ax" x="120.5" y="440.8" text-anchor="middle" style="font-weight:bold;fill:#707070">5</text>
<text class="ax" x="209.5" y="440.8" text-anchor="middle" style="font-weight:bold;fill:#707070">7</text>
<text class="ax" x="298.5" y="440.8" text-anchor="middle" style="font-weight:bold;fill:#707070">9</text>
<text class="ax" x="387.5" y="440.8" text-anchor="middle" style="font-weight:bold;fill:#707070">11</text>
<text class="ax" x="476.5" y="440.8" text-anchor="middle" style="font-weight:bold;fill:#707070">13</text>
<text class="ax" x="564.5" y="440.8" text-anchor="middle" style="font-weight:bold;fill:#707070">15</text>
<text class="ax" x="653.5" y="440.8" text-anchor="middle" style="font-weight:bold;fill:#707070">17</text>
<text class="ax" x="742.5" y="440.8" text-anchor="middle" style="font-weight:bold;fill:#707070">19</text>
<text class="ax" x="831.5" y="440.8" text-anchor="middle" style="font-weight:bold;fill:#707070">21</text>
<text class="ax" x="920.5" y="440.8" text-anchor="middle" style="font-weight:bold;fill:#707070">23</text>
<text class="ax" x="1009.5" y="440.8" text-anchor="middle" style="font-weight:bold;fill:#707070">25</text>
<g shape-rendering="crispEdges"><rect x="1057" y="87" width="66" height="17" fill="#d1384d"/><rect x="1057" y="95" width="4" height="1" fill="#fff"/></g>
<text x="1066" y="98.9" textLength="46.6" lengthAdjust="spacingAndGlyphs" style="font-family:'Liberation Sans',Arial,sans-serif;font-size:11px;font-weight:bold;fill:#fff">37294000</text>
<circle cx="31.1" cy="392" r="16.2" fill="#fff" stroke="#dedede" stroke-width="1"/>
<g transform="translate(12,374) scale(0.07407)"><path d="M150 321 C130 321 119 308 119 290 L119 252 C119 228 134 214 152 214 L166 215 C173 215 178 213 181 205 C183 170 205 148 237 148 C262 148 283 160 292 185 C300 181 312 180 322 181 C345 183 360 195 366 212 C392 222 408 245 408 270 C408 300 392 321 365 321 Z" fill="#33a0ea"/><path d="M116 300 L225 212 L297 287 L368 208" fill="none" stroke="#fff" stroke-width="18" stroke-linejoin="round"/><circle cx="225" cy="212" r="19" fill="#fff"/><circle cx="297" cy="287" r="19" fill="#fff"/></g>
<g transform="translate(6.2,458.4) scale(0.628)" fill="#131722"><path d="M14 23H7V12H0V5h14v18z"/><circle cx="20" cy="9" r="4"/><path d="M28 23h-8l7.5-18h8L28 23z"/></g>
<text class="logo" x="32.9 40.8 46.8 56.2 65.6 69.3 79.0 88.2 99.0 103.3 112.8" y="472.6">TradingView</text>
</svg></body></html>
